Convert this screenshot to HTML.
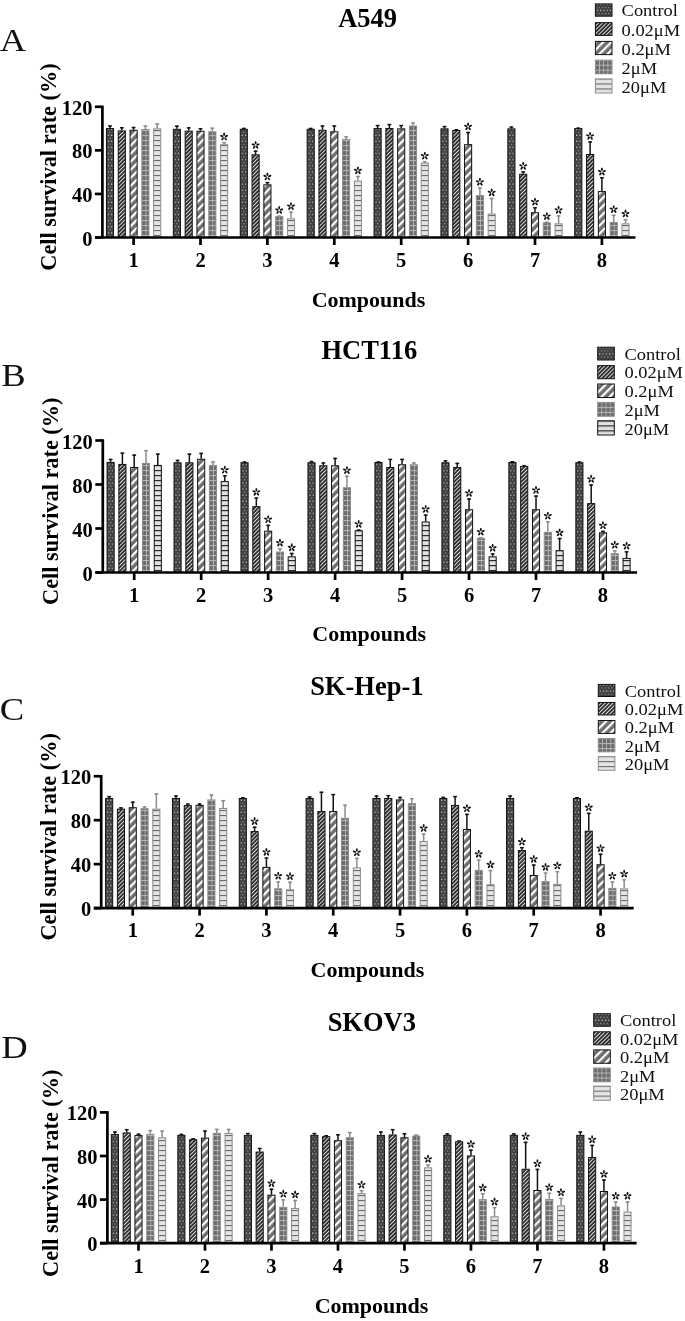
<!DOCTYPE html>
<html><head><meta charset="utf-8"><title>Cell survival</title>
<style>
html,body{margin:0;padding:0;background:#fff;}
body{width:685px;height:1321px;overflow:hidden;}
svg{display:block;will-change:transform;}
text{font-family:"Liberation Serif", serif;fill:#000;}
.tk{font-weight:bold;font-size:20.5px;}
.ti{font-weight:bold;font-size:26.5px;}
.ax{font-weight:bold;font-size:22px;}
.yl{font-weight:bold;font-size:22.3px;}
.lt{font-size:31px;fill:#111;}
.lg{font-size:17.4px;fill:#111;}
</style></head>
<body>
<svg width="685" height="1321" viewBox="0 0 685 1321">

<defs>
 <pattern id="p1" patternUnits="userSpaceOnUse" width="3.3" height="6.1" x="1.9">
  <rect width="3.3" height="6.1" fill="#404040"/>
  <rect x="0" y="0.5" width="1.1" height="1.1" fill="#e8e8e8"/>
  <rect x="1.65" y="3.55" width="1.1" height="1.1" fill="#a0a0a0"/>
 </pattern>
 <pattern id="p2" patternUnits="userSpaceOnUse" width="2.76" height="2.76" patternTransform="rotate(-45)">
  <rect width="2.76" height="2.76" fill="#2c2c2c"/>
  <rect width="2.76" height="0.95" fill="#e0e0e0"/>
 </pattern>
 <pattern id="p3" patternUnits="userSpaceOnUse" width="5.7" height="5.7" patternTransform="rotate(-45)">
  <rect width="5.7" height="5.7" fill="#6e6e6e"/>
  <rect width="5.7" height="2.2" fill="#ffffff"/>
 </pattern>
 <pattern id="p4" patternUnits="userSpaceOnUse" width="4.2" height="5" x="0.8">
  <rect width="4.2" height="5" fill="#6c6c6c"/>
  <rect y="0" width="4.2" height="1.1" fill="#b4b4b4"/>
  <rect x="3.4" y="0" width="1.3" height="5" fill="#b8b8b8"/>
 </pattern>
 <pattern id="p5" patternUnits="userSpaceOnUse" width="4" height="5">
  <rect width="4" height="5" fill="#e4e4e4"/>
  <rect y="0" width="4" height="1.1" fill="#6a6a6a"/>
 </pattern>
 <pattern id="p6" patternUnits="userSpaceOnUse" width="4" height="5">
  <rect width="4" height="5" fill="#e2e2e2"/>
  <rect y="0" width="4" height="1.2" fill="#2a2a2a"/>
 </pattern>
</defs>

<line x1="110.00" y1="128.04" x2="110.00" y2="125.31" stroke="#111" stroke-width="1.5"/>
<line x1="108.10" y1="126.01" x2="111.90" y2="126.01" stroke="#111" stroke-width="1.5"/>
<rect transform="translate(105.95 0)" x="0.5" y="128.54" width="7.10" height="108.96" fill="url(#p1)" stroke="#111" stroke-width="1"/>
<line x1="121.80" y1="130.43" x2="121.80" y2="127.06" stroke="#111" stroke-width="1.5"/>
<line x1="119.90" y1="127.76" x2="123.70" y2="127.76" stroke="#111" stroke-width="1.5"/>
<rect transform="translate(117.75 0)" x="0.5" y="130.93" width="7.10" height="106.57" fill="url(#p2)" stroke="#111" stroke-width="1"/>
<line x1="133.60" y1="129.78" x2="133.60" y2="126.84" stroke="#111" stroke-width="1.5"/>
<line x1="131.70" y1="127.54" x2="135.50" y2="127.54" stroke="#111" stroke-width="1.5"/>
<rect transform="translate(129.55 0)" x="0.5" y="130.28" width="7.10" height="107.22" fill="url(#p3)" stroke="#111" stroke-width="1"/>
<line x1="145.40" y1="129.02" x2="145.40" y2="125.31" stroke="#8c8c8c" stroke-width="1.5"/>
<line x1="143.50" y1="126.01" x2="147.30" y2="126.01" stroke="#8c8c8c" stroke-width="1.5"/>
<rect transform="translate(141.35 0)" x="0.5" y="129.52" width="7.10" height="107.98" fill="url(#p4)" stroke="#8c8c8c" stroke-width="1"/>
<line x1="157.20" y1="128.36" x2="157.20" y2="123.35" stroke="#8c8c8c" stroke-width="1.5"/>
<line x1="155.30" y1="124.05" x2="159.10" y2="124.05" stroke="#8c8c8c" stroke-width="1.5"/>
<rect transform="translate(153.15 0)" x="0.5" y="128.86" width="7.10" height="108.64" fill="url(#p5)" stroke="#8c8c8c" stroke-width="1"/>
<line x1="176.90" y1="128.80" x2="176.90" y2="125.53" stroke="#111" stroke-width="1.5"/>
<line x1="175.00" y1="126.23" x2="178.80" y2="126.23" stroke="#111" stroke-width="1.5"/>
<rect transform="translate(172.85 0)" x="0.5" y="129.30" width="7.10" height="108.20" fill="url(#p1)" stroke="#111" stroke-width="1"/>
<line x1="188.70" y1="130.65" x2="188.70" y2="127.16" stroke="#111" stroke-width="1.5"/>
<line x1="186.80" y1="127.86" x2="190.60" y2="127.86" stroke="#111" stroke-width="1.5"/>
<rect transform="translate(184.65 0)" x="0.5" y="131.15" width="7.10" height="106.35" fill="url(#p2)" stroke="#111" stroke-width="1"/>
<line x1="200.50" y1="130.76" x2="200.50" y2="128.04" stroke="#111" stroke-width="1.5"/>
<line x1="198.60" y1="128.74" x2="202.40" y2="128.74" stroke="#111" stroke-width="1.5"/>
<rect transform="translate(196.45 0)" x="0.5" y="131.26" width="7.10" height="106.24" fill="url(#p3)" stroke="#111" stroke-width="1"/>
<line x1="212.30" y1="131.30" x2="212.30" y2="127.49" stroke="#8c8c8c" stroke-width="1.5"/>
<line x1="210.40" y1="128.19" x2="214.20" y2="128.19" stroke="#8c8c8c" stroke-width="1.5"/>
<rect transform="translate(208.25 0)" x="0.5" y="131.80" width="7.10" height="105.70" fill="url(#p4)" stroke="#8c8c8c" stroke-width="1"/>
<line x1="224.10" y1="144.26" x2="224.10" y2="141.98" stroke="#8c8c8c" stroke-width="1.5"/>
<line x1="222.20" y1="142.68" x2="226.00" y2="142.68" stroke="#8c8c8c" stroke-width="1.5"/>
<rect transform="translate(220.05 0)" x="0.5" y="144.76" width="7.10" height="92.74" fill="url(#p5)" stroke="#8c8c8c" stroke-width="1"/>
<ellipse cx="224.10" cy="134.30" rx="1.76" ry="0.96" transform="rotate(-90.0 224.10 134.30)" fill="#111"/><ellipse cx="226.46" cy="136.01" rx="1.76" ry="0.96" transform="rotate(-18.0 226.46 136.01)" fill="#111"/><ellipse cx="225.56" cy="138.78" rx="1.76" ry="0.96" transform="rotate(54.0 225.56 138.78)" fill="#111"/><ellipse cx="222.64" cy="138.78" rx="1.76" ry="0.96" transform="rotate(126.0 222.64 138.78)" fill="#111"/><ellipse cx="221.74" cy="136.01" rx="1.76" ry="0.96" transform="rotate(198.0 221.74 136.01)" fill="#111"/>
<line x1="243.80" y1="128.80" x2="243.80" y2="127.82" stroke="#111" stroke-width="1.5"/>
<line x1="241.90" y1="128.52" x2="245.70" y2="128.52" stroke="#111" stroke-width="1.5"/>
<rect transform="translate(239.75 0)" x="0.5" y="129.30" width="7.10" height="108.20" fill="url(#p1)" stroke="#111" stroke-width="1"/>
<line x1="255.60" y1="154.29" x2="255.60" y2="150.47" stroke="#111" stroke-width="1.5"/>
<line x1="253.70" y1="151.17" x2="257.50" y2="151.17" stroke="#111" stroke-width="1.5"/>
<rect transform="translate(251.55 0)" x="0.5" y="154.79" width="7.10" height="82.71" fill="url(#p2)" stroke="#111" stroke-width="1"/>
<ellipse cx="255.60" cy="142.79" rx="1.76" ry="0.96" transform="rotate(-90.0 255.60 142.79)" fill="#111"/><ellipse cx="257.96" cy="144.51" rx="1.76" ry="0.96" transform="rotate(-18.0 257.96 144.51)" fill="#111"/><ellipse cx="257.06" cy="147.28" rx="1.76" ry="0.96" transform="rotate(54.0 257.06 147.28)" fill="#111"/><ellipse cx="254.14" cy="147.28" rx="1.76" ry="0.96" transform="rotate(126.0 254.14 147.28)" fill="#111"/><ellipse cx="253.24" cy="144.51" rx="1.76" ry="0.96" transform="rotate(198.0 253.24 144.51)" fill="#111"/>
<line x1="267.40" y1="184.35" x2="267.40" y2="181.95" stroke="#111" stroke-width="1.5"/>
<line x1="265.50" y1="182.65" x2="269.30" y2="182.65" stroke="#111" stroke-width="1.5"/>
<rect transform="translate(263.35 0)" x="0.5" y="184.85" width="7.10" height="52.65" fill="url(#p3)" stroke="#111" stroke-width="1"/>
<ellipse cx="267.40" cy="174.27" rx="1.76" ry="0.96" transform="rotate(-90.0 267.40 174.27)" fill="#111"/><ellipse cx="269.76" cy="175.98" rx="1.76" ry="0.96" transform="rotate(-18.0 269.76 175.98)" fill="#111"/><ellipse cx="268.86" cy="178.76" rx="1.76" ry="0.96" transform="rotate(54.0 268.86 178.76)" fill="#111"/><ellipse cx="265.94" cy="178.76" rx="1.76" ry="0.96" transform="rotate(126.0 265.94 178.76)" fill="#111"/><ellipse cx="265.04" cy="175.98" rx="1.76" ry="0.96" transform="rotate(198.0 265.04 175.98)" fill="#111"/>
<line x1="279.20" y1="216.15" x2="279.20" y2="215.50" stroke="#8c8c8c" stroke-width="1.5"/>
<line x1="277.30" y1="216.20" x2="281.10" y2="216.20" stroke="#8c8c8c" stroke-width="1.5"/>
<rect transform="translate(275.15 0)" x="0.5" y="216.65" width="7.10" height="20.85" fill="url(#p4)" stroke="#8c8c8c" stroke-width="1"/>
<ellipse cx="279.20" cy="207.82" rx="1.76" ry="0.96" transform="rotate(-90.0 279.20 207.82)" fill="#111"/><ellipse cx="281.56" cy="209.53" rx="1.76" ry="0.96" transform="rotate(-18.0 281.56 209.53)" fill="#111"/><ellipse cx="280.66" cy="212.30" rx="1.76" ry="0.96" transform="rotate(54.0 280.66 212.30)" fill="#111"/><ellipse cx="277.74" cy="212.30" rx="1.76" ry="0.96" transform="rotate(126.0 277.74 212.30)" fill="#111"/><ellipse cx="276.84" cy="209.53" rx="1.76" ry="0.96" transform="rotate(198.0 276.84 209.53)" fill="#111"/>
<line x1="291.00" y1="218.33" x2="291.00" y2="211.58" stroke="#8c8c8c" stroke-width="1.5"/>
<line x1="289.10" y1="212.28" x2="292.90" y2="212.28" stroke="#8c8c8c" stroke-width="1.5"/>
<rect transform="translate(286.95 0)" x="0.5" y="218.83" width="7.10" height="18.67" fill="url(#p5)" stroke="#8c8c8c" stroke-width="1"/>
<ellipse cx="291.00" cy="203.90" rx="1.76" ry="0.96" transform="rotate(-90.0 291.00 203.90)" fill="#111"/><ellipse cx="293.36" cy="205.61" rx="1.76" ry="0.96" transform="rotate(-18.0 293.36 205.61)" fill="#111"/><ellipse cx="292.46" cy="208.38" rx="1.76" ry="0.96" transform="rotate(54.0 292.46 208.38)" fill="#111"/><ellipse cx="289.54" cy="208.38" rx="1.76" ry="0.96" transform="rotate(126.0 289.54 208.38)" fill="#111"/><ellipse cx="288.64" cy="205.61" rx="1.76" ry="0.96" transform="rotate(198.0 288.64 205.61)" fill="#111"/>
<line x1="310.70" y1="128.80" x2="310.70" y2="127.82" stroke="#111" stroke-width="1.5"/>
<line x1="308.80" y1="128.52" x2="312.60" y2="128.52" stroke="#111" stroke-width="1.5"/>
<rect transform="translate(306.65 0)" x="0.5" y="129.30" width="7.10" height="108.20" fill="url(#p1)" stroke="#111" stroke-width="1"/>
<line x1="322.50" y1="129.78" x2="322.50" y2="125.31" stroke="#111" stroke-width="1.5"/>
<line x1="320.60" y1="126.01" x2="324.40" y2="126.01" stroke="#111" stroke-width="1.5"/>
<rect transform="translate(318.45 0)" x="0.5" y="130.28" width="7.10" height="107.22" fill="url(#p2)" stroke="#111" stroke-width="1"/>
<line x1="334.30" y1="131.30" x2="334.30" y2="125.31" stroke="#111" stroke-width="1.5"/>
<line x1="332.40" y1="126.01" x2="336.20" y2="126.01" stroke="#111" stroke-width="1.5"/>
<rect transform="translate(330.25 0)" x="0.5" y="131.80" width="7.10" height="105.70" fill="url(#p3)" stroke="#111" stroke-width="1"/>
<line x1="346.10" y1="139.04" x2="346.10" y2="136.20" stroke="#8c8c8c" stroke-width="1.5"/>
<line x1="344.20" y1="136.90" x2="348.00" y2="136.90" stroke="#8c8c8c" stroke-width="1.5"/>
<rect transform="translate(342.05 0)" x="0.5" y="139.54" width="7.10" height="97.96" fill="url(#p4)" stroke="#8c8c8c" stroke-width="1"/>
<line x1="357.90" y1="180.53" x2="357.90" y2="175.85" stroke="#8c8c8c" stroke-width="1.5"/>
<line x1="356.00" y1="176.55" x2="359.80" y2="176.55" stroke="#8c8c8c" stroke-width="1.5"/>
<rect transform="translate(353.85 0)" x="0.5" y="181.03" width="7.10" height="56.47" fill="url(#p5)" stroke="#8c8c8c" stroke-width="1"/>
<ellipse cx="357.90" cy="168.17" rx="1.76" ry="0.96" transform="rotate(-90.0 357.90 168.17)" fill="#111"/><ellipse cx="360.26" cy="169.88" rx="1.76" ry="0.96" transform="rotate(-18.0 360.26 169.88)" fill="#111"/><ellipse cx="359.36" cy="172.66" rx="1.76" ry="0.96" transform="rotate(54.0 359.36 172.66)" fill="#111"/><ellipse cx="356.44" cy="172.66" rx="1.76" ry="0.96" transform="rotate(126.0 356.44 172.66)" fill="#111"/><ellipse cx="355.54" cy="169.88" rx="1.76" ry="0.96" transform="rotate(198.0 355.54 169.88)" fill="#111"/>
<line x1="377.60" y1="128.04" x2="377.60" y2="124.88" stroke="#111" stroke-width="1.5"/>
<line x1="375.70" y1="125.58" x2="379.50" y2="125.58" stroke="#111" stroke-width="1.5"/>
<rect transform="translate(373.55 0)" x="0.5" y="128.54" width="7.10" height="108.96" fill="url(#p1)" stroke="#111" stroke-width="1"/>
<line x1="389.40" y1="128.04" x2="389.40" y2="123.90" stroke="#111" stroke-width="1.5"/>
<line x1="387.50" y1="124.60" x2="391.30" y2="124.60" stroke="#111" stroke-width="1.5"/>
<rect transform="translate(385.35 0)" x="0.5" y="128.54" width="7.10" height="108.96" fill="url(#p2)" stroke="#111" stroke-width="1"/>
<line x1="401.20" y1="128.36" x2="401.20" y2="124.88" stroke="#111" stroke-width="1.5"/>
<line x1="399.30" y1="125.58" x2="403.10" y2="125.58" stroke="#111" stroke-width="1.5"/>
<rect transform="translate(397.15 0)" x="0.5" y="128.86" width="7.10" height="108.64" fill="url(#p3)" stroke="#111" stroke-width="1"/>
<line x1="413.00" y1="125.53" x2="413.00" y2="122.26" stroke="#8c8c8c" stroke-width="1.5"/>
<line x1="411.10" y1="122.96" x2="414.90" y2="122.96" stroke="#8c8c8c" stroke-width="1.5"/>
<rect transform="translate(408.95 0)" x="0.5" y="126.03" width="7.10" height="111.47" fill="url(#p4)" stroke="#8c8c8c" stroke-width="1"/>
<line x1="424.80" y1="162.67" x2="424.80" y2="161.15" stroke="#8c8c8c" stroke-width="1.5"/>
<line x1="422.90" y1="161.85" x2="426.70" y2="161.85" stroke="#8c8c8c" stroke-width="1.5"/>
<rect transform="translate(420.75 0)" x="0.5" y="163.17" width="7.10" height="74.33" fill="url(#p5)" stroke="#8c8c8c" stroke-width="1"/>
<ellipse cx="424.80" cy="153.47" rx="1.76" ry="0.96" transform="rotate(-90.0 424.80 153.47)" fill="#111"/><ellipse cx="427.16" cy="155.18" rx="1.76" ry="0.96" transform="rotate(-18.0 427.16 155.18)" fill="#111"/><ellipse cx="426.26" cy="157.95" rx="1.76" ry="0.96" transform="rotate(54.0 426.26 157.95)" fill="#111"/><ellipse cx="423.34" cy="157.95" rx="1.76" ry="0.96" transform="rotate(126.0 423.34 157.95)" fill="#111"/><ellipse cx="422.44" cy="155.18" rx="1.76" ry="0.96" transform="rotate(198.0 422.44 155.18)" fill="#111"/>
<line x1="444.50" y1="128.36" x2="444.50" y2="125.86" stroke="#111" stroke-width="1.5"/>
<line x1="442.60" y1="126.56" x2="446.40" y2="126.56" stroke="#111" stroke-width="1.5"/>
<rect transform="translate(440.45 0)" x="0.5" y="128.86" width="7.10" height="108.64" fill="url(#p1)" stroke="#111" stroke-width="1"/>
<line x1="456.30" y1="130.00" x2="456.30" y2="129.12" stroke="#111" stroke-width="1.5"/>
<line x1="454.40" y1="129.82" x2="458.20" y2="129.82" stroke="#111" stroke-width="1.5"/>
<rect transform="translate(452.25 0)" x="0.5" y="130.50" width="7.10" height="107.00" fill="url(#p2)" stroke="#111" stroke-width="1"/>
<line x1="468.10" y1="144.16" x2="468.10" y2="131.85" stroke="#111" stroke-width="1.5"/>
<line x1="466.20" y1="132.55" x2="470.00" y2="132.55" stroke="#111" stroke-width="1.5"/>
<rect transform="translate(464.05 0)" x="0.5" y="144.66" width="7.10" height="92.84" fill="url(#p3)" stroke="#111" stroke-width="1"/>
<ellipse cx="468.10" cy="124.17" rx="1.76" ry="0.96" transform="rotate(-90.0 468.10 124.17)" fill="#111"/><ellipse cx="470.46" cy="125.88" rx="1.76" ry="0.96" transform="rotate(-18.0 470.46 125.88)" fill="#111"/><ellipse cx="469.56" cy="128.65" rx="1.76" ry="0.96" transform="rotate(54.0 469.56 128.65)" fill="#111"/><ellipse cx="466.64" cy="128.65" rx="1.76" ry="0.96" transform="rotate(126.0 466.64 128.65)" fill="#111"/><ellipse cx="465.74" cy="125.88" rx="1.76" ry="0.96" transform="rotate(198.0 465.74 125.88)" fill="#111"/>
<line x1="479.90" y1="195.02" x2="479.90" y2="187.29" stroke="#8c8c8c" stroke-width="1.5"/>
<line x1="478.00" y1="187.99" x2="481.80" y2="187.99" stroke="#8c8c8c" stroke-width="1.5"/>
<rect transform="translate(475.85 0)" x="0.5" y="195.52" width="7.10" height="41.98" fill="url(#p4)" stroke="#8c8c8c" stroke-width="1"/>
<ellipse cx="479.90" cy="179.61" rx="1.76" ry="0.96" transform="rotate(-90.0 479.90 179.61)" fill="#111"/><ellipse cx="482.26" cy="181.32" rx="1.76" ry="0.96" transform="rotate(-18.0 482.26 181.32)" fill="#111"/><ellipse cx="481.36" cy="184.09" rx="1.76" ry="0.96" transform="rotate(54.0 481.36 184.09)" fill="#111"/><ellipse cx="478.44" cy="184.09" rx="1.76" ry="0.96" transform="rotate(126.0 478.44 184.09)" fill="#111"/><ellipse cx="477.54" cy="181.32" rx="1.76" ry="0.96" transform="rotate(198.0 477.54 181.32)" fill="#111"/>
<line x1="491.70" y1="213.54" x2="491.70" y2="197.85" stroke="#8c8c8c" stroke-width="1.5"/>
<line x1="489.80" y1="198.55" x2="493.60" y2="198.55" stroke="#8c8c8c" stroke-width="1.5"/>
<rect transform="translate(487.65 0)" x="0.5" y="214.04" width="7.10" height="23.46" fill="url(#p5)" stroke="#8c8c8c" stroke-width="1"/>
<ellipse cx="491.70" cy="190.17" rx="1.76" ry="0.96" transform="rotate(-90.0 491.70 190.17)" fill="#111"/><ellipse cx="494.06" cy="191.89" rx="1.76" ry="0.96" transform="rotate(-18.0 494.06 191.89)" fill="#111"/><ellipse cx="493.16" cy="194.66" rx="1.76" ry="0.96" transform="rotate(54.0 493.16 194.66)" fill="#111"/><ellipse cx="490.24" cy="194.66" rx="1.76" ry="0.96" transform="rotate(126.0 490.24 194.66)" fill="#111"/><ellipse cx="489.34" cy="191.89" rx="1.76" ry="0.96" transform="rotate(198.0 489.34 191.89)" fill="#111"/>
<line x1="511.40" y1="128.36" x2="511.40" y2="126.40" stroke="#111" stroke-width="1.5"/>
<line x1="509.50" y1="127.10" x2="513.30" y2="127.10" stroke="#111" stroke-width="1.5"/>
<rect transform="translate(507.35 0)" x="0.5" y="128.86" width="7.10" height="108.64" fill="url(#p1)" stroke="#111" stroke-width="1"/>
<line x1="523.20" y1="173.78" x2="523.20" y2="171.28" stroke="#111" stroke-width="1.5"/>
<line x1="521.30" y1="171.98" x2="525.10" y2="171.98" stroke="#111" stroke-width="1.5"/>
<rect transform="translate(519.15 0)" x="0.5" y="174.28" width="7.10" height="63.22" fill="url(#p2)" stroke="#111" stroke-width="1"/>
<ellipse cx="523.20" cy="163.60" rx="1.76" ry="0.96" transform="rotate(-90.0 523.20 163.60)" fill="#111"/><ellipse cx="525.56" cy="165.31" rx="1.76" ry="0.96" transform="rotate(-18.0 525.56 165.31)" fill="#111"/><ellipse cx="524.66" cy="168.08" rx="1.76" ry="0.96" transform="rotate(54.0 524.66 168.08)" fill="#111"/><ellipse cx="521.74" cy="168.08" rx="1.76" ry="0.96" transform="rotate(126.0 521.74 168.08)" fill="#111"/><ellipse cx="520.84" cy="165.31" rx="1.76" ry="0.96" transform="rotate(198.0 520.84 165.31)" fill="#111"/>
<line x1="535.00" y1="212.23" x2="535.00" y2="207.11" stroke="#111" stroke-width="1.5"/>
<line x1="533.10" y1="207.81" x2="536.90" y2="207.81" stroke="#111" stroke-width="1.5"/>
<rect transform="translate(530.95 0)" x="0.5" y="212.73" width="7.10" height="24.77" fill="url(#p3)" stroke="#111" stroke-width="1"/>
<ellipse cx="535.00" cy="199.43" rx="1.76" ry="0.96" transform="rotate(-90.0 535.00 199.43)" fill="#111"/><ellipse cx="537.36" cy="201.14" rx="1.76" ry="0.96" transform="rotate(-18.0 537.36 201.14)" fill="#111"/><ellipse cx="536.46" cy="203.92" rx="1.76" ry="0.96" transform="rotate(54.0 536.46 203.92)" fill="#111"/><ellipse cx="533.54" cy="203.92" rx="1.76" ry="0.96" transform="rotate(126.0 533.54 203.92)" fill="#111"/><ellipse cx="532.64" cy="201.14" rx="1.76" ry="0.96" transform="rotate(198.0 532.64 201.14)" fill="#111"/>
<line x1="546.80" y1="222.36" x2="546.80" y2="221.60" stroke="#8c8c8c" stroke-width="1.5"/>
<line x1="544.90" y1="222.30" x2="548.70" y2="222.30" stroke="#8c8c8c" stroke-width="1.5"/>
<rect transform="translate(542.75 0)" x="0.5" y="222.86" width="7.10" height="14.64" fill="url(#p4)" stroke="#8c8c8c" stroke-width="1"/>
<ellipse cx="546.80" cy="213.92" rx="1.76" ry="0.96" transform="rotate(-90.0 546.80 213.92)" fill="#111"/><ellipse cx="549.16" cy="215.63" rx="1.76" ry="0.96" transform="rotate(-18.0 549.16 215.63)" fill="#111"/><ellipse cx="548.26" cy="218.40" rx="1.76" ry="0.96" transform="rotate(54.0 548.26 218.40)" fill="#111"/><ellipse cx="545.34" cy="218.40" rx="1.76" ry="0.96" transform="rotate(126.0 545.34 218.40)" fill="#111"/><ellipse cx="544.44" cy="215.63" rx="1.76" ry="0.96" transform="rotate(198.0 544.44 215.63)" fill="#111"/>
<line x1="558.60" y1="223.34" x2="558.60" y2="215.28" stroke="#8c8c8c" stroke-width="1.5"/>
<line x1="556.70" y1="215.98" x2="560.50" y2="215.98" stroke="#8c8c8c" stroke-width="1.5"/>
<rect transform="translate(554.55 0)" x="0.5" y="223.84" width="7.10" height="13.66" fill="url(#p5)" stroke="#8c8c8c" stroke-width="1"/>
<ellipse cx="558.60" cy="207.60" rx="1.76" ry="0.96" transform="rotate(-90.0 558.60 207.60)" fill="#111"/><ellipse cx="560.96" cy="209.31" rx="1.76" ry="0.96" transform="rotate(-18.0 560.96 209.31)" fill="#111"/><ellipse cx="560.06" cy="212.09" rx="1.76" ry="0.96" transform="rotate(54.0 560.06 212.09)" fill="#111"/><ellipse cx="557.14" cy="212.09" rx="1.76" ry="0.96" transform="rotate(126.0 557.14 212.09)" fill="#111"/><ellipse cx="556.24" cy="209.31" rx="1.76" ry="0.96" transform="rotate(198.0 556.24 209.31)" fill="#111"/>
<line x1="578.30" y1="128.04" x2="578.30" y2="127.49" stroke="#111" stroke-width="1.5"/>
<line x1="576.40" y1="128.19" x2="580.20" y2="128.19" stroke="#111" stroke-width="1.5"/>
<rect transform="translate(574.25 0)" x="0.5" y="128.54" width="7.10" height="108.96" fill="url(#p1)" stroke="#111" stroke-width="1"/>
<line x1="590.10" y1="153.96" x2="590.10" y2="141.32" stroke="#111" stroke-width="1.5"/>
<line x1="588.20" y1="142.02" x2="592.00" y2="142.02" stroke="#111" stroke-width="1.5"/>
<rect transform="translate(586.05 0)" x="0.5" y="154.46" width="7.10" height="83.04" fill="url(#p2)" stroke="#111" stroke-width="1"/>
<ellipse cx="590.10" cy="133.64" rx="1.76" ry="0.96" transform="rotate(-90.0 590.10 133.64)" fill="#111"/><ellipse cx="592.46" cy="135.36" rx="1.76" ry="0.96" transform="rotate(-18.0 592.46 135.36)" fill="#111"/><ellipse cx="591.56" cy="138.13" rx="1.76" ry="0.96" transform="rotate(54.0 591.56 138.13)" fill="#111"/><ellipse cx="588.64" cy="138.13" rx="1.76" ry="0.96" transform="rotate(126.0 588.64 138.13)" fill="#111"/><ellipse cx="587.74" cy="135.36" rx="1.76" ry="0.96" transform="rotate(198.0 587.74 135.36)" fill="#111"/>
<line x1="601.90" y1="191.10" x2="601.90" y2="177.05" stroke="#111" stroke-width="1.5"/>
<line x1="600.00" y1="177.75" x2="603.80" y2="177.75" stroke="#111" stroke-width="1.5"/>
<rect transform="translate(597.85 0)" x="0.5" y="191.60" width="7.10" height="45.90" fill="url(#p3)" stroke="#111" stroke-width="1"/>
<ellipse cx="601.90" cy="169.37" rx="1.76" ry="0.96" transform="rotate(-90.0 601.90 169.37)" fill="#111"/><ellipse cx="604.26" cy="171.08" rx="1.76" ry="0.96" transform="rotate(-18.0 604.26 171.08)" fill="#111"/><ellipse cx="603.36" cy="173.86" rx="1.76" ry="0.96" transform="rotate(54.0 603.36 173.86)" fill="#111"/><ellipse cx="600.44" cy="173.86" rx="1.76" ry="0.96" transform="rotate(126.0 600.44 173.86)" fill="#111"/><ellipse cx="599.54" cy="171.08" rx="1.76" ry="0.96" transform="rotate(198.0 599.54 171.08)" fill="#111"/>
<line x1="613.70" y1="222.03" x2="613.70" y2="214.63" stroke="#8c8c8c" stroke-width="1.5"/>
<line x1="611.80" y1="215.33" x2="615.60" y2="215.33" stroke="#8c8c8c" stroke-width="1.5"/>
<rect transform="translate(609.65 0)" x="0.5" y="222.53" width="7.10" height="14.97" fill="url(#p4)" stroke="#8c8c8c" stroke-width="1"/>
<ellipse cx="613.70" cy="206.95" rx="1.76" ry="0.96" transform="rotate(-90.0 613.70 206.95)" fill="#111"/><ellipse cx="616.06" cy="208.66" rx="1.76" ry="0.96" transform="rotate(-18.0 616.06 208.66)" fill="#111"/><ellipse cx="615.16" cy="211.43" rx="1.76" ry="0.96" transform="rotate(54.0 615.16 211.43)" fill="#111"/><ellipse cx="612.24" cy="211.43" rx="1.76" ry="0.96" transform="rotate(126.0 612.24 211.43)" fill="#111"/><ellipse cx="611.34" cy="208.66" rx="1.76" ry="0.96" transform="rotate(198.0 611.34 208.66)" fill="#111"/>
<line x1="625.50" y1="223.34" x2="625.50" y2="218.98" stroke="#8c8c8c" stroke-width="1.5"/>
<line x1="623.60" y1="219.68" x2="627.40" y2="219.68" stroke="#8c8c8c" stroke-width="1.5"/>
<rect transform="translate(621.45 0)" x="0.5" y="223.84" width="7.10" height="13.66" fill="url(#p5)" stroke="#8c8c8c" stroke-width="1"/>
<ellipse cx="625.50" cy="211.30" rx="1.76" ry="0.96" transform="rotate(-90.0 625.50 211.30)" fill="#111"/><ellipse cx="627.86" cy="213.02" rx="1.76" ry="0.96" transform="rotate(-18.0 627.86 213.02)" fill="#111"/><ellipse cx="626.96" cy="215.79" rx="1.76" ry="0.96" transform="rotate(54.0 626.96 215.79)" fill="#111"/><ellipse cx="624.04" cy="215.79" rx="1.76" ry="0.96" transform="rotate(126.0 624.04 215.79)" fill="#111"/><ellipse cx="623.14" cy="213.02" rx="1.76" ry="0.96" transform="rotate(198.0 623.14 213.02)" fill="#111"/>
<line x1="102.40" y1="105.60" x2="102.40" y2="237.50" stroke="#000" stroke-width="2.7"/>
<line x1="95.00" y1="237.50" x2="635.50" y2="237.50" stroke="#000" stroke-width="2.7"/>
<line x1="94.90" y1="237.50" x2="102.40" y2="237.50" stroke="#000" stroke-width="2.7"/>
<text transform="translate(92.40 245.50) scale(1 1.07)" text-anchor="end" class="tk">0</text>
<line x1="94.90" y1="193.93" x2="102.40" y2="193.93" stroke="#000" stroke-width="2.7"/>
<text transform="translate(92.40 201.93) scale(1 1.07)" text-anchor="end" class="tk">40</text>
<line x1="94.90" y1="150.36" x2="102.40" y2="150.36" stroke="#000" stroke-width="2.7"/>
<text transform="translate(92.40 158.36) scale(1 1.07)" text-anchor="end" class="tk">80</text>
<line x1="94.90" y1="106.80" x2="102.40" y2="106.80" stroke="#000" stroke-width="2.7"/>
<text transform="translate(92.40 114.80) scale(1 1.07)" text-anchor="end" class="tk">120</text>
<line x1="133.60" y1="237.50" x2="133.60" y2="245.00" stroke="#000" stroke-width="2.7"/>
<text x="133.60" y="267.00" text-anchor="middle" class="tk">1</text>
<line x1="200.50" y1="237.50" x2="200.50" y2="245.00" stroke="#000" stroke-width="2.7"/>
<text x="200.50" y="267.00" text-anchor="middle" class="tk">2</text>
<line x1="267.40" y1="237.50" x2="267.40" y2="245.00" stroke="#000" stroke-width="2.7"/>
<text x="267.40" y="267.00" text-anchor="middle" class="tk">3</text>
<line x1="334.30" y1="237.50" x2="334.30" y2="245.00" stroke="#000" stroke-width="2.7"/>
<text x="334.30" y="267.00" text-anchor="middle" class="tk">4</text>
<line x1="401.20" y1="237.50" x2="401.20" y2="245.00" stroke="#000" stroke-width="2.7"/>
<text x="401.20" y="267.00" text-anchor="middle" class="tk">5</text>
<line x1="468.10" y1="237.50" x2="468.10" y2="245.00" stroke="#000" stroke-width="2.7"/>
<text x="468.10" y="267.00" text-anchor="middle" class="tk">6</text>
<line x1="535.00" y1="237.50" x2="535.00" y2="245.00" stroke="#000" stroke-width="2.7"/>
<text x="535.00" y="267.00" text-anchor="middle" class="tk">7</text>
<line x1="601.90" y1="237.50" x2="601.90" y2="245.00" stroke="#000" stroke-width="2.7"/>
<text x="601.90" y="267.00" text-anchor="middle" class="tk">8</text>
<text transform="translate(367.60 27.20) scale(1 1.07)" text-anchor="middle" class="ti">A549</text>
<text transform="translate(-0.20 50.80) scale(1.18 1)" class="lt">A</text>
<text x="368.50" y="307.00" text-anchor="middle" class="ax">Compounds</text>
<text transform="translate(56.20 167.00) rotate(-90)" text-anchor="middle" class="yl">Cell survival rate (%)</text>
<rect transform="translate(594.90 3.40)" x="0.5" y="0.5" width="16.6" height="12.30" fill="url(#p1)" stroke="#111" stroke-width="1"/>
<text transform="translate(621.60 16.30) scale(1.06 1)" class="lg">Control</text>
<rect transform="translate(594.90 22.15)" x="0.5" y="0.5" width="16.6" height="12.75" fill="url(#p2)" stroke="#111" stroke-width="1"/>
<text transform="translate(621.60 35.50) scale(1.06 1)" class="lg">0.02μM</text>
<rect transform="translate(594.90 40.90)" x="0.5" y="0.5" width="16.6" height="13.20" fill="url(#p3)" stroke="#111" stroke-width="1"/>
<text transform="translate(621.60 54.70) scale(1.06 1)" class="lg">0.2μM</text>
<rect transform="translate(594.90 59.65)" x="0.5" y="0.5" width="16.6" height="13.65" fill="url(#p4)" stroke="#8c8c8c" stroke-width="1"/>
<text transform="translate(621.60 73.90) scale(1.06 1)" class="lg">2μM</text>
<rect transform="translate(594.90 78.40)" x="0.5" y="0.5" width="16.6" height="14.10" fill="url(#p5)" stroke="#8c8c8c" stroke-width="1"/>
<text transform="translate(621.60 93.10) scale(1.06 1)" class="lg">20μM</text>
<line x1="110.60" y1="461.95" x2="110.60" y2="458.76" stroke="#111" stroke-width="1.5"/>
<line x1="108.70" y1="459.46" x2="112.50" y2="459.46" stroke="#111" stroke-width="1.5"/>
<rect transform="translate(106.55 0)" x="0.5" y="462.45" width="7.10" height="110.05" fill="url(#p1)" stroke="#111" stroke-width="1"/>
<line x1="122.40" y1="463.93" x2="122.40" y2="452.49" stroke="#111" stroke-width="1.5"/>
<line x1="120.50" y1="453.19" x2="124.30" y2="453.19" stroke="#111" stroke-width="1.5"/>
<rect transform="translate(118.35 0)" x="0.5" y="464.43" width="7.10" height="108.07" fill="url(#p2)" stroke="#111" stroke-width="1"/>
<line x1="134.20" y1="467.01" x2="134.20" y2="454.47" stroke="#111" stroke-width="1.5"/>
<line x1="132.30" y1="455.17" x2="136.10" y2="455.17" stroke="#111" stroke-width="1.5"/>
<rect transform="translate(130.15 0)" x="0.5" y="467.51" width="7.10" height="104.99" fill="url(#p3)" stroke="#111" stroke-width="1"/>
<line x1="146.00" y1="462.94" x2="146.00" y2="449.96" stroke="#8c8c8c" stroke-width="1.5"/>
<line x1="144.10" y1="450.66" x2="147.90" y2="450.66" stroke="#8c8c8c" stroke-width="1.5"/>
<rect transform="translate(141.95 0)" x="0.5" y="463.44" width="7.10" height="109.06" fill="url(#p4)" stroke="#8c8c8c" stroke-width="1"/>
<line x1="157.80" y1="464.92" x2="157.80" y2="453.48" stroke="#111" stroke-width="1.5"/>
<line x1="155.90" y1="454.18" x2="159.70" y2="454.18" stroke="#111" stroke-width="1.5"/>
<rect transform="translate(153.75 0)" x="0.5" y="465.42" width="7.10" height="107.08" fill="url(#p6)" stroke="#111" stroke-width="1"/>
<line x1="177.57" y1="462.28" x2="177.57" y2="459.75" stroke="#111" stroke-width="1.5"/>
<line x1="175.67" y1="460.45" x2="179.47" y2="460.45" stroke="#111" stroke-width="1.5"/>
<rect transform="translate(173.52 0)" x="0.5" y="462.78" width="7.10" height="109.72" fill="url(#p1)" stroke="#111" stroke-width="1"/>
<line x1="189.37" y1="462.28" x2="189.37" y2="453.48" stroke="#111" stroke-width="1.5"/>
<line x1="187.47" y1="454.18" x2="191.27" y2="454.18" stroke="#111" stroke-width="1.5"/>
<rect transform="translate(185.32 0)" x="0.5" y="462.78" width="7.10" height="109.72" fill="url(#p2)" stroke="#111" stroke-width="1"/>
<line x1="201.17" y1="458.76" x2="201.17" y2="452.71" stroke="#111" stroke-width="1.5"/>
<line x1="199.27" y1="453.41" x2="203.07" y2="453.41" stroke="#111" stroke-width="1.5"/>
<rect transform="translate(197.12 0)" x="0.5" y="459.26" width="7.10" height="113.24" fill="url(#p3)" stroke="#111" stroke-width="1"/>
<line x1="212.97" y1="464.92" x2="212.97" y2="461.18" stroke="#8c8c8c" stroke-width="1.5"/>
<line x1="211.07" y1="461.88" x2="214.87" y2="461.88" stroke="#8c8c8c" stroke-width="1.5"/>
<rect transform="translate(208.92 0)" x="0.5" y="465.42" width="7.10" height="107.08" fill="url(#p4)" stroke="#8c8c8c" stroke-width="1"/>
<line x1="224.77" y1="481.09" x2="224.77" y2="475.15" stroke="#111" stroke-width="1.5"/>
<line x1="222.87" y1="475.85" x2="226.67" y2="475.85" stroke="#111" stroke-width="1.5"/>
<rect transform="translate(220.72 0)" x="0.5" y="481.59" width="7.10" height="90.91" fill="url(#p6)" stroke="#111" stroke-width="1"/>
<ellipse cx="224.77" cy="467.47" rx="1.76" ry="0.96" transform="rotate(-90.0 224.77 467.47)" fill="#111"/><ellipse cx="227.13" cy="469.18" rx="1.76" ry="0.96" transform="rotate(-18.0 227.13 469.18)" fill="#111"/><ellipse cx="226.23" cy="471.96" rx="1.76" ry="0.96" transform="rotate(54.0 226.23 471.96)" fill="#111"/><ellipse cx="223.31" cy="471.96" rx="1.76" ry="0.96" transform="rotate(126.0 223.31 471.96)" fill="#111"/><ellipse cx="222.41" cy="469.18" rx="1.76" ry="0.96" transform="rotate(198.0 222.41 469.18)" fill="#111"/>
<line x1="244.54" y1="462.28" x2="244.54" y2="461.40" stroke="#111" stroke-width="1.5"/>
<line x1="242.64" y1="462.10" x2="246.44" y2="462.10" stroke="#111" stroke-width="1.5"/>
<rect transform="translate(240.49 0)" x="0.5" y="462.78" width="7.10" height="109.72" fill="url(#p1)" stroke="#111" stroke-width="1"/>
<line x1="256.34" y1="506.17" x2="256.34" y2="497.37" stroke="#111" stroke-width="1.5"/>
<line x1="254.44" y1="498.07" x2="258.24" y2="498.07" stroke="#111" stroke-width="1.5"/>
<rect transform="translate(252.29 0)" x="0.5" y="506.67" width="7.10" height="65.83" fill="url(#p2)" stroke="#111" stroke-width="1"/>
<ellipse cx="256.34" cy="489.69" rx="1.76" ry="0.96" transform="rotate(-90.0 256.34 489.69)" fill="#111"/><ellipse cx="258.70" cy="491.40" rx="1.76" ry="0.96" transform="rotate(-18.0 258.70 491.40)" fill="#111"/><ellipse cx="257.80" cy="494.18" rx="1.76" ry="0.96" transform="rotate(54.0 257.80 494.18)" fill="#111"/><ellipse cx="254.88" cy="494.18" rx="1.76" ry="0.96" transform="rotate(126.0 254.88 494.18)" fill="#111"/><ellipse cx="253.98" cy="491.40" rx="1.76" ry="0.96" transform="rotate(198.0 253.98 491.40)" fill="#111"/>
<line x1="268.14" y1="530.70" x2="268.14" y2="524.65" stroke="#111" stroke-width="1.5"/>
<line x1="266.24" y1="525.35" x2="270.04" y2="525.35" stroke="#111" stroke-width="1.5"/>
<rect transform="translate(264.09 0)" x="0.5" y="531.20" width="7.10" height="41.30" fill="url(#p3)" stroke="#111" stroke-width="1"/>
<ellipse cx="268.14" cy="516.97" rx="1.76" ry="0.96" transform="rotate(-90.0 268.14 516.97)" fill="#111"/><ellipse cx="270.50" cy="518.68" rx="1.76" ry="0.96" transform="rotate(-18.0 270.50 518.68)" fill="#111"/><ellipse cx="269.60" cy="521.46" rx="1.76" ry="0.96" transform="rotate(54.0 269.60 521.46)" fill="#111"/><ellipse cx="266.68" cy="521.46" rx="1.76" ry="0.96" transform="rotate(126.0 266.68 521.46)" fill="#111"/><ellipse cx="265.78" cy="518.68" rx="1.76" ry="0.96" transform="rotate(198.0 265.78 518.68)" fill="#111"/>
<line x1="279.94" y1="551.60" x2="279.94" y2="548.08" stroke="#8c8c8c" stroke-width="1.5"/>
<line x1="278.04" y1="548.78" x2="281.84" y2="548.78" stroke="#8c8c8c" stroke-width="1.5"/>
<rect transform="translate(275.89 0)" x="0.5" y="552.10" width="7.10" height="20.40" fill="url(#p4)" stroke="#8c8c8c" stroke-width="1"/>
<ellipse cx="279.94" cy="540.40" rx="1.76" ry="0.96" transform="rotate(-90.0 279.94 540.40)" fill="#111"/><ellipse cx="282.30" cy="542.11" rx="1.76" ry="0.96" transform="rotate(-18.0 282.30 542.11)" fill="#111"/><ellipse cx="281.40" cy="544.89" rx="1.76" ry="0.96" transform="rotate(54.0 281.40 544.89)" fill="#111"/><ellipse cx="278.48" cy="544.89" rx="1.76" ry="0.96" transform="rotate(126.0 278.48 544.89)" fill="#111"/><ellipse cx="277.58" cy="542.11" rx="1.76" ry="0.96" transform="rotate(198.0 277.58 542.11)" fill="#111"/>
<line x1="291.74" y1="556.33" x2="291.74" y2="552.81" stroke="#111" stroke-width="1.5"/>
<line x1="289.84" y1="553.51" x2="293.64" y2="553.51" stroke="#111" stroke-width="1.5"/>
<rect transform="translate(287.69 0)" x="0.5" y="556.83" width="7.10" height="15.67" fill="url(#p6)" stroke="#111" stroke-width="1"/>
<ellipse cx="291.74" cy="545.13" rx="1.76" ry="0.96" transform="rotate(-90.0 291.74 545.13)" fill="#111"/><ellipse cx="294.10" cy="546.84" rx="1.76" ry="0.96" transform="rotate(-18.0 294.10 546.84)" fill="#111"/><ellipse cx="293.20" cy="549.62" rx="1.76" ry="0.96" transform="rotate(54.0 293.20 549.62)" fill="#111"/><ellipse cx="290.28" cy="549.62" rx="1.76" ry="0.96" transform="rotate(126.0 290.28 549.62)" fill="#111"/><ellipse cx="289.38" cy="546.84" rx="1.76" ry="0.96" transform="rotate(198.0 289.38 546.84)" fill="#111"/>
<line x1="311.51" y1="462.28" x2="311.51" y2="460.85" stroke="#111" stroke-width="1.5"/>
<line x1="309.61" y1="461.55" x2="313.41" y2="461.55" stroke="#111" stroke-width="1.5"/>
<rect transform="translate(307.46 0)" x="0.5" y="462.78" width="7.10" height="109.72" fill="url(#p1)" stroke="#111" stroke-width="1"/>
<line x1="323.31" y1="465.25" x2="323.31" y2="462.28" stroke="#111" stroke-width="1.5"/>
<line x1="321.41" y1="462.98" x2="325.21" y2="462.98" stroke="#111" stroke-width="1.5"/>
<rect transform="translate(319.26 0)" x="0.5" y="465.75" width="7.10" height="106.75" fill="url(#p2)" stroke="#111" stroke-width="1"/>
<line x1="335.11" y1="465.25" x2="335.11" y2="457.77" stroke="#111" stroke-width="1.5"/>
<line x1="333.21" y1="458.47" x2="337.01" y2="458.47" stroke="#111" stroke-width="1.5"/>
<rect transform="translate(331.06 0)" x="0.5" y="465.75" width="7.10" height="106.75" fill="url(#p3)" stroke="#111" stroke-width="1"/>
<line x1="346.91" y1="487.25" x2="346.91" y2="475.59" stroke="#8c8c8c" stroke-width="1.5"/>
<line x1="345.01" y1="476.29" x2="348.81" y2="476.29" stroke="#8c8c8c" stroke-width="1.5"/>
<rect transform="translate(342.86 0)" x="0.5" y="487.75" width="7.10" height="84.75" fill="url(#p4)" stroke="#8c8c8c" stroke-width="1"/>
<ellipse cx="346.91" cy="467.91" rx="1.76" ry="0.96" transform="rotate(-90.0 346.91 467.91)" fill="#111"/><ellipse cx="349.27" cy="469.62" rx="1.76" ry="0.96" transform="rotate(-18.0 349.27 469.62)" fill="#111"/><ellipse cx="348.37" cy="472.40" rx="1.76" ry="0.96" transform="rotate(54.0 348.37 472.40)" fill="#111"/><ellipse cx="345.45" cy="472.40" rx="1.76" ry="0.96" transform="rotate(126.0 345.45 472.40)" fill="#111"/><ellipse cx="344.55" cy="469.62" rx="1.76" ry="0.96" transform="rotate(198.0 344.55 469.62)" fill="#111"/>
<line x1="358.71" y1="530.26" x2="358.71" y2="529.38" stroke="#111" stroke-width="1.5"/>
<line x1="356.81" y1="530.08" x2="360.61" y2="530.08" stroke="#111" stroke-width="1.5"/>
<rect transform="translate(354.66 0)" x="0.5" y="530.76" width="7.10" height="41.74" fill="url(#p6)" stroke="#111" stroke-width="1"/>
<ellipse cx="358.71" cy="521.70" rx="1.76" ry="0.96" transform="rotate(-90.0 358.71 521.70)" fill="#111"/><ellipse cx="361.07" cy="523.41" rx="1.76" ry="0.96" transform="rotate(-18.0 361.07 523.41)" fill="#111"/><ellipse cx="360.17" cy="526.19" rx="1.76" ry="0.96" transform="rotate(54.0 360.17 526.19)" fill="#111"/><ellipse cx="357.25" cy="526.19" rx="1.76" ry="0.96" transform="rotate(126.0 357.25 526.19)" fill="#111"/><ellipse cx="356.35" cy="523.41" rx="1.76" ry="0.96" transform="rotate(198.0 356.35 523.41)" fill="#111"/>
<line x1="378.48" y1="461.95" x2="378.48" y2="461.40" stroke="#111" stroke-width="1.5"/>
<line x1="376.58" y1="462.10" x2="380.38" y2="462.10" stroke="#111" stroke-width="1.5"/>
<rect transform="translate(374.43 0)" x="0.5" y="462.45" width="7.10" height="110.05" fill="url(#p1)" stroke="#111" stroke-width="1"/>
<line x1="390.28" y1="467.01" x2="390.28" y2="458.76" stroke="#111" stroke-width="1.5"/>
<line x1="388.38" y1="459.46" x2="392.18" y2="459.46" stroke="#111" stroke-width="1.5"/>
<rect transform="translate(386.23 0)" x="0.5" y="467.51" width="7.10" height="104.99" fill="url(#p2)" stroke="#111" stroke-width="1"/>
<line x1="402.08" y1="464.26" x2="402.08" y2="458.76" stroke="#111" stroke-width="1.5"/>
<line x1="400.18" y1="459.46" x2="403.98" y2="459.46" stroke="#111" stroke-width="1.5"/>
<rect transform="translate(398.03 0)" x="0.5" y="464.76" width="7.10" height="107.74" fill="url(#p3)" stroke="#111" stroke-width="1"/>
<line x1="413.88" y1="464.26" x2="413.88" y2="462.28" stroke="#8c8c8c" stroke-width="1.5"/>
<line x1="411.98" y1="462.98" x2="415.78" y2="462.98" stroke="#8c8c8c" stroke-width="1.5"/>
<rect transform="translate(409.83 0)" x="0.5" y="464.76" width="7.10" height="107.74" fill="url(#p4)" stroke="#8c8c8c" stroke-width="1"/>
<line x1="425.68" y1="521.46" x2="425.68" y2="514.42" stroke="#111" stroke-width="1.5"/>
<line x1="423.78" y1="515.12" x2="427.58" y2="515.12" stroke="#111" stroke-width="1.5"/>
<rect transform="translate(421.63 0)" x="0.5" y="521.96" width="7.10" height="50.54" fill="url(#p6)" stroke="#111" stroke-width="1"/>
<ellipse cx="425.68" cy="506.74" rx="1.76" ry="0.96" transform="rotate(-90.0 425.68 506.74)" fill="#111"/><ellipse cx="428.04" cy="508.45" rx="1.76" ry="0.96" transform="rotate(-18.0 428.04 508.45)" fill="#111"/><ellipse cx="427.14" cy="511.23" rx="1.76" ry="0.96" transform="rotate(54.0 427.14 511.23)" fill="#111"/><ellipse cx="424.22" cy="511.23" rx="1.76" ry="0.96" transform="rotate(126.0 424.22 511.23)" fill="#111"/><ellipse cx="423.32" cy="508.45" rx="1.76" ry="0.96" transform="rotate(198.0 423.32 508.45)" fill="#111"/>
<line x1="445.45" y1="462.28" x2="445.45" y2="460.19" stroke="#111" stroke-width="1.5"/>
<line x1="443.55" y1="460.89" x2="447.35" y2="460.89" stroke="#111" stroke-width="1.5"/>
<rect transform="translate(441.40 0)" x="0.5" y="462.78" width="7.10" height="109.72" fill="url(#p1)" stroke="#111" stroke-width="1"/>
<line x1="457.25" y1="467.01" x2="457.25" y2="462.72" stroke="#111" stroke-width="1.5"/>
<line x1="455.35" y1="463.42" x2="459.15" y2="463.42" stroke="#111" stroke-width="1.5"/>
<rect transform="translate(453.20 0)" x="0.5" y="467.51" width="7.10" height="104.99" fill="url(#p2)" stroke="#111" stroke-width="1"/>
<line x1="469.05" y1="509.25" x2="469.05" y2="498.36" stroke="#111" stroke-width="1.5"/>
<line x1="467.15" y1="499.06" x2="470.95" y2="499.06" stroke="#111" stroke-width="1.5"/>
<rect transform="translate(465.00 0)" x="0.5" y="509.75" width="7.10" height="62.75" fill="url(#p3)" stroke="#111" stroke-width="1"/>
<ellipse cx="469.05" cy="490.68" rx="1.76" ry="0.96" transform="rotate(-90.0 469.05 490.68)" fill="#111"/><ellipse cx="471.41" cy="492.39" rx="1.76" ry="0.96" transform="rotate(-18.0 471.41 492.39)" fill="#111"/><ellipse cx="470.51" cy="495.17" rx="1.76" ry="0.96" transform="rotate(54.0 470.51 495.17)" fill="#111"/><ellipse cx="467.59" cy="495.17" rx="1.76" ry="0.96" transform="rotate(126.0 467.59 495.17)" fill="#111"/><ellipse cx="466.69" cy="492.39" rx="1.76" ry="0.96" transform="rotate(198.0 466.69 492.39)" fill="#111"/>
<line x1="480.85" y1="537.85" x2="480.85" y2="537.08" stroke="#8c8c8c" stroke-width="1.5"/>
<line x1="478.95" y1="537.78" x2="482.75" y2="537.78" stroke="#8c8c8c" stroke-width="1.5"/>
<rect transform="translate(476.80 0)" x="0.5" y="538.35" width="7.10" height="34.15" fill="url(#p4)" stroke="#8c8c8c" stroke-width="1"/>
<ellipse cx="480.85" cy="529.40" rx="1.76" ry="0.96" transform="rotate(-90.0 480.85 529.40)" fill="#111"/><ellipse cx="483.21" cy="531.11" rx="1.76" ry="0.96" transform="rotate(-18.0 483.21 531.11)" fill="#111"/><ellipse cx="482.31" cy="533.89" rx="1.76" ry="0.96" transform="rotate(54.0 482.31 533.89)" fill="#111"/><ellipse cx="479.39" cy="533.89" rx="1.76" ry="0.96" transform="rotate(126.0 479.39 533.89)" fill="#111"/><ellipse cx="478.49" cy="531.11" rx="1.76" ry="0.96" transform="rotate(198.0 478.49 531.11)" fill="#111"/>
<line x1="492.65" y1="556.33" x2="492.65" y2="553.25" stroke="#111" stroke-width="1.5"/>
<line x1="490.75" y1="553.95" x2="494.55" y2="553.95" stroke="#111" stroke-width="1.5"/>
<rect transform="translate(488.60 0)" x="0.5" y="556.83" width="7.10" height="15.67" fill="url(#p6)" stroke="#111" stroke-width="1"/>
<ellipse cx="492.65" cy="545.57" rx="1.76" ry="0.96" transform="rotate(-90.0 492.65 545.57)" fill="#111"/><ellipse cx="495.01" cy="547.28" rx="1.76" ry="0.96" transform="rotate(-18.0 495.01 547.28)" fill="#111"/><ellipse cx="494.11" cy="550.06" rx="1.76" ry="0.96" transform="rotate(54.0 494.11 550.06)" fill="#111"/><ellipse cx="491.19" cy="550.06" rx="1.76" ry="0.96" transform="rotate(126.0 491.19 550.06)" fill="#111"/><ellipse cx="490.29" cy="547.28" rx="1.76" ry="0.96" transform="rotate(198.0 490.29 547.28)" fill="#111"/>
<line x1="512.42" y1="461.95" x2="512.42" y2="461.07" stroke="#111" stroke-width="1.5"/>
<line x1="510.52" y1="461.77" x2="514.32" y2="461.77" stroke="#111" stroke-width="1.5"/>
<rect transform="translate(508.37 0)" x="0.5" y="462.45" width="7.10" height="110.05" fill="url(#p1)" stroke="#111" stroke-width="1"/>
<line x1="524.22" y1="465.91" x2="524.22" y2="465.25" stroke="#111" stroke-width="1.5"/>
<line x1="522.32" y1="465.95" x2="526.12" y2="465.95" stroke="#111" stroke-width="1.5"/>
<rect transform="translate(520.17 0)" x="0.5" y="466.41" width="7.10" height="106.09" fill="url(#p2)" stroke="#111" stroke-width="1"/>
<line x1="536.02" y1="509.25" x2="536.02" y2="495.39" stroke="#111" stroke-width="1.5"/>
<line x1="534.12" y1="496.09" x2="537.92" y2="496.09" stroke="#111" stroke-width="1.5"/>
<rect transform="translate(531.97 0)" x="0.5" y="509.75" width="7.10" height="62.75" fill="url(#p3)" stroke="#111" stroke-width="1"/>
<ellipse cx="536.02" cy="487.71" rx="1.76" ry="0.96" transform="rotate(-90.0 536.02 487.71)" fill="#111"/><ellipse cx="538.38" cy="489.42" rx="1.76" ry="0.96" transform="rotate(-18.0 538.38 489.42)" fill="#111"/><ellipse cx="537.48" cy="492.20" rx="1.76" ry="0.96" transform="rotate(54.0 537.48 492.20)" fill="#111"/><ellipse cx="534.56" cy="492.20" rx="1.76" ry="0.96" transform="rotate(126.0 534.56 492.20)" fill="#111"/><ellipse cx="533.66" cy="489.42" rx="1.76" ry="0.96" transform="rotate(198.0 533.66 489.42)" fill="#111"/>
<line x1="547.82" y1="531.80" x2="547.82" y2="521.13" stroke="#8c8c8c" stroke-width="1.5"/>
<line x1="545.92" y1="521.83" x2="549.72" y2="521.83" stroke="#8c8c8c" stroke-width="1.5"/>
<rect transform="translate(543.77 0)" x="0.5" y="532.30" width="7.10" height="40.20" fill="url(#p4)" stroke="#8c8c8c" stroke-width="1"/>
<ellipse cx="547.82" cy="513.45" rx="1.76" ry="0.96" transform="rotate(-90.0 547.82 513.45)" fill="#111"/><ellipse cx="550.18" cy="515.16" rx="1.76" ry="0.96" transform="rotate(-18.0 550.18 515.16)" fill="#111"/><ellipse cx="549.28" cy="517.94" rx="1.76" ry="0.96" transform="rotate(54.0 549.28 517.94)" fill="#111"/><ellipse cx="546.36" cy="517.94" rx="1.76" ry="0.96" transform="rotate(126.0 546.36 517.94)" fill="#111"/><ellipse cx="545.46" cy="515.16" rx="1.76" ry="0.96" transform="rotate(198.0 545.46 515.16)" fill="#111"/>
<line x1="559.62" y1="550.17" x2="559.62" y2="537.85" stroke="#111" stroke-width="1.5"/>
<line x1="557.72" y1="538.55" x2="561.52" y2="538.55" stroke="#111" stroke-width="1.5"/>
<rect transform="translate(555.57 0)" x="0.5" y="550.67" width="7.10" height="21.83" fill="url(#p6)" stroke="#111" stroke-width="1"/>
<ellipse cx="559.62" cy="530.17" rx="1.76" ry="0.96" transform="rotate(-90.0 559.62 530.17)" fill="#111"/><ellipse cx="561.98" cy="531.88" rx="1.76" ry="0.96" transform="rotate(-18.0 561.98 531.88)" fill="#111"/><ellipse cx="561.08" cy="534.66" rx="1.76" ry="0.96" transform="rotate(54.0 561.08 534.66)" fill="#111"/><ellipse cx="558.16" cy="534.66" rx="1.76" ry="0.96" transform="rotate(126.0 558.16 534.66)" fill="#111"/><ellipse cx="557.26" cy="531.88" rx="1.76" ry="0.96" transform="rotate(198.0 557.26 531.88)" fill="#111"/>
<line x1="579.39" y1="462.28" x2="579.39" y2="461.40" stroke="#111" stroke-width="1.5"/>
<line x1="577.49" y1="462.10" x2="581.29" y2="462.10" stroke="#111" stroke-width="1.5"/>
<rect transform="translate(575.34 0)" x="0.5" y="462.78" width="7.10" height="109.72" fill="url(#p1)" stroke="#111" stroke-width="1"/>
<line x1="591.19" y1="503.09" x2="591.19" y2="484.28" stroke="#111" stroke-width="1.5"/>
<line x1="589.29" y1="484.98" x2="593.09" y2="484.98" stroke="#111" stroke-width="1.5"/>
<rect transform="translate(587.14 0)" x="0.5" y="503.59" width="7.10" height="68.91" fill="url(#p2)" stroke="#111" stroke-width="1"/>
<ellipse cx="591.19" cy="476.60" rx="1.76" ry="0.96" transform="rotate(-90.0 591.19 476.60)" fill="#111"/><ellipse cx="593.55" cy="478.31" rx="1.76" ry="0.96" transform="rotate(-18.0 593.55 478.31)" fill="#111"/><ellipse cx="592.65" cy="481.09" rx="1.76" ry="0.96" transform="rotate(54.0 592.65 481.09)" fill="#111"/><ellipse cx="589.73" cy="481.09" rx="1.76" ry="0.96" transform="rotate(126.0 589.73 481.09)" fill="#111"/><ellipse cx="588.83" cy="478.31" rx="1.76" ry="0.96" transform="rotate(198.0 588.83 478.31)" fill="#111"/>
<line x1="602.99" y1="532.35" x2="602.99" y2="530.70" stroke="#111" stroke-width="1.5"/>
<line x1="601.09" y1="531.40" x2="604.89" y2="531.40" stroke="#111" stroke-width="1.5"/>
<rect transform="translate(598.94 0)" x="0.5" y="532.85" width="7.10" height="39.65" fill="url(#p3)" stroke="#111" stroke-width="1"/>
<ellipse cx="602.99" cy="523.02" rx="1.76" ry="0.96" transform="rotate(-90.0 602.99 523.02)" fill="#111"/><ellipse cx="605.35" cy="524.73" rx="1.76" ry="0.96" transform="rotate(-18.0 605.35 524.73)" fill="#111"/><ellipse cx="604.45" cy="527.51" rx="1.76" ry="0.96" transform="rotate(54.0 604.45 527.51)" fill="#111"/><ellipse cx="601.53" cy="527.51" rx="1.76" ry="0.96" transform="rotate(126.0 601.53 527.51)" fill="#111"/><ellipse cx="600.63" cy="524.73" rx="1.76" ry="0.96" transform="rotate(198.0 600.63 524.73)" fill="#111"/>
<line x1="614.79" y1="553.25" x2="614.79" y2="550.17" stroke="#8c8c8c" stroke-width="1.5"/>
<line x1="612.89" y1="550.87" x2="616.69" y2="550.87" stroke="#8c8c8c" stroke-width="1.5"/>
<rect transform="translate(610.74 0)" x="0.5" y="553.75" width="7.10" height="18.75" fill="url(#p4)" stroke="#8c8c8c" stroke-width="1"/>
<ellipse cx="614.79" cy="542.49" rx="1.76" ry="0.96" transform="rotate(-90.0 614.79 542.49)" fill="#111"/><ellipse cx="617.15" cy="544.20" rx="1.76" ry="0.96" transform="rotate(-18.0 617.15 544.20)" fill="#111"/><ellipse cx="616.25" cy="546.98" rx="1.76" ry="0.96" transform="rotate(54.0 616.25 546.98)" fill="#111"/><ellipse cx="613.33" cy="546.98" rx="1.76" ry="0.96" transform="rotate(126.0 613.33 546.98)" fill="#111"/><ellipse cx="612.43" cy="544.20" rx="1.76" ry="0.96" transform="rotate(198.0 612.43 544.20)" fill="#111"/>
<line x1="626.59" y1="557.87" x2="626.59" y2="551.16" stroke="#111" stroke-width="1.5"/>
<line x1="624.69" y1="551.86" x2="628.49" y2="551.86" stroke="#111" stroke-width="1.5"/>
<rect transform="translate(622.54 0)" x="0.5" y="558.37" width="7.10" height="14.13" fill="url(#p6)" stroke="#111" stroke-width="1"/>
<ellipse cx="626.59" cy="543.48" rx="1.76" ry="0.96" transform="rotate(-90.0 626.59 543.48)" fill="#111"/><ellipse cx="628.95" cy="545.19" rx="1.76" ry="0.96" transform="rotate(-18.0 628.95 545.19)" fill="#111"/><ellipse cx="628.05" cy="547.97" rx="1.76" ry="0.96" transform="rotate(54.0 628.05 547.97)" fill="#111"/><ellipse cx="625.13" cy="547.97" rx="1.76" ry="0.96" transform="rotate(126.0 625.13 547.97)" fill="#111"/><ellipse cx="624.23" cy="545.19" rx="1.76" ry="0.96" transform="rotate(198.0 624.23 545.19)" fill="#111"/>
<line x1="102.80" y1="439.30" x2="102.80" y2="572.50" stroke="#000" stroke-width="2.7"/>
<line x1="95.50" y1="572.50" x2="637.10" y2="572.50" stroke="#000" stroke-width="2.7"/>
<line x1="95.30" y1="572.50" x2="102.80" y2="572.50" stroke="#000" stroke-width="2.7"/>
<text transform="translate(92.80 580.50) scale(1 1.07)" text-anchor="end" class="tk">0</text>
<line x1="95.30" y1="528.50" x2="102.80" y2="528.50" stroke="#000" stroke-width="2.7"/>
<text transform="translate(92.80 536.50) scale(1 1.07)" text-anchor="end" class="tk">40</text>
<line x1="95.30" y1="484.50" x2="102.80" y2="484.50" stroke="#000" stroke-width="2.7"/>
<text transform="translate(92.80 492.50) scale(1 1.07)" text-anchor="end" class="tk">80</text>
<line x1="95.30" y1="440.50" x2="102.80" y2="440.50" stroke="#000" stroke-width="2.7"/>
<text transform="translate(92.80 448.50) scale(1 1.07)" text-anchor="end" class="tk">120</text>
<line x1="134.20" y1="572.50" x2="134.20" y2="580.00" stroke="#000" stroke-width="2.7"/>
<text x="134.20" y="602.00" text-anchor="middle" class="tk">1</text>
<line x1="201.17" y1="572.50" x2="201.17" y2="580.00" stroke="#000" stroke-width="2.7"/>
<text x="201.17" y="602.00" text-anchor="middle" class="tk">2</text>
<line x1="268.14" y1="572.50" x2="268.14" y2="580.00" stroke="#000" stroke-width="2.7"/>
<text x="268.14" y="602.00" text-anchor="middle" class="tk">3</text>
<line x1="335.11" y1="572.50" x2="335.11" y2="580.00" stroke="#000" stroke-width="2.7"/>
<text x="335.11" y="602.00" text-anchor="middle" class="tk">4</text>
<line x1="402.08" y1="572.50" x2="402.08" y2="580.00" stroke="#000" stroke-width="2.7"/>
<text x="402.08" y="602.00" text-anchor="middle" class="tk">5</text>
<line x1="469.05" y1="572.50" x2="469.05" y2="580.00" stroke="#000" stroke-width="2.7"/>
<text x="469.05" y="602.00" text-anchor="middle" class="tk">6</text>
<line x1="536.02" y1="572.50" x2="536.02" y2="580.00" stroke="#000" stroke-width="2.7"/>
<text x="536.02" y="602.00" text-anchor="middle" class="tk">7</text>
<line x1="602.99" y1="572.50" x2="602.99" y2="580.00" stroke="#000" stroke-width="2.7"/>
<text x="602.99" y="602.00" text-anchor="middle" class="tk">8</text>
<text transform="translate(369.30 359.20) scale(1 1.07)" text-anchor="middle" class="ti">HCT116</text>
<text transform="translate(1.30 386.40) scale(1.18 1)" class="lt">B</text>
<text x="369.20" y="641.20" text-anchor="middle" class="ax">Compounds</text>
<text transform="translate(57.80 501.20) rotate(-90)" text-anchor="middle" class="yl">Cell survival rate (%)</text>
<rect transform="translate(597.20 346.70)" x="0.5" y="0.5" width="16.6" height="12.80" fill="url(#p1)" stroke="#111" stroke-width="1"/>
<text transform="translate(624.50 359.70) scale(1.06 1)" class="lg">Control</text>
<rect transform="translate(597.20 365.10)" x="0.5" y="0.5" width="16.6" height="13.15" fill="url(#p2)" stroke="#111" stroke-width="1"/>
<text transform="translate(624.50 378.45) scale(1.06 1)" class="lg">0.02μM</text>
<rect transform="translate(597.20 383.50)" x="0.5" y="0.5" width="16.6" height="13.50" fill="url(#p3)" stroke="#111" stroke-width="1"/>
<text transform="translate(624.50 397.20) scale(1.06 1)" class="lg">0.2μM</text>
<rect transform="translate(597.20 401.90)" x="0.5" y="0.5" width="16.6" height="13.85" fill="url(#p4)" stroke="#8c8c8c" stroke-width="1"/>
<text transform="translate(624.50 415.95) scale(1.06 1)" class="lg">2μM</text>
<rect transform="translate(597.20 420.30)" x="0.5" y="0.5" width="16.6" height="14.20" fill="url(#p6)" stroke="#111" stroke-width="1"/>
<text transform="translate(624.50 434.70) scale(1.06 1)" class="lg">20μM</text>
<line x1="109.15" y1="797.98" x2="109.15" y2="795.89" stroke="#111" stroke-width="1.5"/>
<line x1="107.25" y1="796.59" x2="111.05" y2="796.59" stroke="#111" stroke-width="1.5"/>
<rect transform="translate(105.10 0)" x="0.5" y="798.48" width="7.10" height="109.62" fill="url(#p1)" stroke="#111" stroke-width="1"/>
<line x1="120.95" y1="808.64" x2="120.95" y2="807.21" stroke="#111" stroke-width="1.5"/>
<line x1="119.05" y1="807.91" x2="122.85" y2="807.91" stroke="#111" stroke-width="1.5"/>
<rect transform="translate(116.90 0)" x="0.5" y="809.14" width="7.10" height="98.96" fill="url(#p2)" stroke="#111" stroke-width="1"/>
<line x1="132.75" y1="807.21" x2="132.75" y2="801.50" stroke="#111" stroke-width="1.5"/>
<line x1="130.85" y1="802.20" x2="134.65" y2="802.20" stroke="#111" stroke-width="1.5"/>
<rect transform="translate(128.70 0)" x="0.5" y="807.71" width="7.10" height="100.39" fill="url(#p3)" stroke="#111" stroke-width="1"/>
<line x1="144.55" y1="808.20" x2="144.55" y2="806.22" stroke="#8c8c8c" stroke-width="1.5"/>
<line x1="142.65" y1="806.92" x2="146.45" y2="806.92" stroke="#8c8c8c" stroke-width="1.5"/>
<rect transform="translate(140.50 0)" x="0.5" y="808.70" width="7.10" height="99.40" fill="url(#p4)" stroke="#8c8c8c" stroke-width="1"/>
<line x1="156.35" y1="808.64" x2="156.35" y2="793.25" stroke="#8c8c8c" stroke-width="1.5"/>
<line x1="154.45" y1="793.95" x2="158.25" y2="793.95" stroke="#8c8c8c" stroke-width="1.5"/>
<rect transform="translate(152.30 0)" x="0.5" y="809.14" width="7.10" height="98.96" fill="url(#p5)" stroke="#8c8c8c" stroke-width="1"/>
<line x1="175.98" y1="797.98" x2="175.98" y2="795.34" stroke="#111" stroke-width="1.5"/>
<line x1="174.08" y1="796.04" x2="177.88" y2="796.04" stroke="#111" stroke-width="1.5"/>
<rect transform="translate(171.93 0)" x="0.5" y="798.48" width="7.10" height="109.62" fill="url(#p1)" stroke="#111" stroke-width="1"/>
<line x1="187.78" y1="805.12" x2="187.78" y2="803.48" stroke="#111" stroke-width="1.5"/>
<line x1="185.88" y1="804.18" x2="189.68" y2="804.18" stroke="#111" stroke-width="1.5"/>
<rect transform="translate(183.73 0)" x="0.5" y="805.62" width="7.10" height="102.48" fill="url(#p2)" stroke="#111" stroke-width="1"/>
<line x1="199.58" y1="804.90" x2="199.58" y2="803.37" stroke="#111" stroke-width="1.5"/>
<line x1="197.68" y1="804.07" x2="201.48" y2="804.07" stroke="#111" stroke-width="1.5"/>
<rect transform="translate(195.53 0)" x="0.5" y="805.40" width="7.10" height="102.70" fill="url(#p3)" stroke="#111" stroke-width="1"/>
<line x1="211.38" y1="799.41" x2="211.38" y2="794.35" stroke="#8c8c8c" stroke-width="1.5"/>
<line x1="209.48" y1="795.05" x2="213.28" y2="795.05" stroke="#8c8c8c" stroke-width="1.5"/>
<rect transform="translate(207.33 0)" x="0.5" y="799.91" width="7.10" height="108.19" fill="url(#p4)" stroke="#8c8c8c" stroke-width="1"/>
<line x1="223.18" y1="807.98" x2="223.18" y2="799.96" stroke="#8c8c8c" stroke-width="1.5"/>
<line x1="221.28" y1="800.66" x2="225.08" y2="800.66" stroke="#8c8c8c" stroke-width="1.5"/>
<rect transform="translate(219.13 0)" x="0.5" y="808.48" width="7.10" height="99.62" fill="url(#p5)" stroke="#8c8c8c" stroke-width="1"/>
<line x1="242.81" y1="797.98" x2="242.81" y2="797.10" stroke="#111" stroke-width="1.5"/>
<line x1="240.91" y1="797.80" x2="244.71" y2="797.80" stroke="#111" stroke-width="1.5"/>
<rect transform="translate(238.76 0)" x="0.5" y="798.48" width="7.10" height="109.62" fill="url(#p1)" stroke="#111" stroke-width="1"/>
<line x1="254.61" y1="831.06" x2="254.61" y2="826.55" stroke="#111" stroke-width="1.5"/>
<line x1="252.71" y1="827.25" x2="256.51" y2="827.25" stroke="#111" stroke-width="1.5"/>
<rect transform="translate(250.56 0)" x="0.5" y="831.56" width="7.10" height="76.54" fill="url(#p2)" stroke="#111" stroke-width="1"/>
<ellipse cx="254.61" cy="818.87" rx="1.76" ry="0.96" transform="rotate(-90.0 254.61 818.87)" fill="#111"/><ellipse cx="256.97" cy="820.59" rx="1.76" ry="0.96" transform="rotate(-18.0 256.97 820.59)" fill="#111"/><ellipse cx="256.07" cy="823.36" rx="1.76" ry="0.96" transform="rotate(54.0 256.07 823.36)" fill="#111"/><ellipse cx="253.15" cy="823.36" rx="1.76" ry="0.96" transform="rotate(126.0 253.15 823.36)" fill="#111"/><ellipse cx="252.25" cy="820.59" rx="1.76" ry="0.96" transform="rotate(198.0 252.25 820.59)" fill="#111"/>
<line x1="266.41" y1="866.89" x2="266.41" y2="857.33" stroke="#111" stroke-width="1.5"/>
<line x1="264.51" y1="858.03" x2="268.31" y2="858.03" stroke="#111" stroke-width="1.5"/>
<rect transform="translate(262.36 0)" x="0.5" y="867.39" width="7.10" height="40.71" fill="url(#p3)" stroke="#111" stroke-width="1"/>
<ellipse cx="266.41" cy="849.65" rx="1.76" ry="0.96" transform="rotate(-90.0 266.41 849.65)" fill="#111"/><ellipse cx="268.77" cy="851.36" rx="1.76" ry="0.96" transform="rotate(-18.0 268.77 851.36)" fill="#111"/><ellipse cx="267.87" cy="854.13" rx="1.76" ry="0.96" transform="rotate(54.0 267.87 854.13)" fill="#111"/><ellipse cx="264.95" cy="854.13" rx="1.76" ry="0.96" transform="rotate(126.0 264.95 854.13)" fill="#111"/><ellipse cx="264.05" cy="851.36" rx="1.76" ry="0.96" transform="rotate(198.0 264.05 851.36)" fill="#111"/>
<line x1="278.21" y1="888.32" x2="278.21" y2="881.17" stroke="#8c8c8c" stroke-width="1.5"/>
<line x1="276.31" y1="881.87" x2="280.11" y2="881.87" stroke="#8c8c8c" stroke-width="1.5"/>
<rect transform="translate(274.16 0)" x="0.5" y="888.82" width="7.10" height="19.28" fill="url(#p4)" stroke="#8c8c8c" stroke-width="1"/>
<ellipse cx="278.21" cy="873.49" rx="1.76" ry="0.96" transform="rotate(-90.0 278.21 873.49)" fill="#111"/><ellipse cx="280.57" cy="875.21" rx="1.76" ry="0.96" transform="rotate(-18.0 280.57 875.21)" fill="#111"/><ellipse cx="279.67" cy="877.98" rx="1.76" ry="0.96" transform="rotate(54.0 279.67 877.98)" fill="#111"/><ellipse cx="276.75" cy="877.98" rx="1.76" ry="0.96" transform="rotate(126.0 276.75 877.98)" fill="#111"/><ellipse cx="275.85" cy="875.21" rx="1.76" ry="0.96" transform="rotate(198.0 275.85 875.21)" fill="#111"/>
<line x1="290.01" y1="889.31" x2="290.01" y2="881.61" stroke="#8c8c8c" stroke-width="1.5"/>
<line x1="288.11" y1="882.31" x2="291.91" y2="882.31" stroke="#8c8c8c" stroke-width="1.5"/>
<rect transform="translate(285.96 0)" x="0.5" y="889.81" width="7.10" height="18.29" fill="url(#p5)" stroke="#8c8c8c" stroke-width="1"/>
<ellipse cx="290.01" cy="873.93" rx="1.76" ry="0.96" transform="rotate(-90.0 290.01 873.93)" fill="#111"/><ellipse cx="292.37" cy="875.65" rx="1.76" ry="0.96" transform="rotate(-18.0 292.37 875.65)" fill="#111"/><ellipse cx="291.47" cy="878.42" rx="1.76" ry="0.96" transform="rotate(54.0 291.47 878.42)" fill="#111"/><ellipse cx="288.55" cy="878.42" rx="1.76" ry="0.96" transform="rotate(126.0 288.55 878.42)" fill="#111"/><ellipse cx="287.65" cy="875.65" rx="1.76" ry="0.96" transform="rotate(198.0 287.65 875.65)" fill="#111"/>
<line x1="309.64" y1="797.98" x2="309.64" y2="796.33" stroke="#111" stroke-width="1.5"/>
<line x1="307.74" y1="797.03" x2="311.54" y2="797.03" stroke="#111" stroke-width="1.5"/>
<rect transform="translate(305.59 0)" x="0.5" y="798.48" width="7.10" height="109.62" fill="url(#p1)" stroke="#111" stroke-width="1"/>
<line x1="321.44" y1="811.06" x2="321.44" y2="791.61" stroke="#111" stroke-width="1.5"/>
<line x1="319.54" y1="792.31" x2="323.34" y2="792.31" stroke="#111" stroke-width="1.5"/>
<rect transform="translate(317.39 0)" x="0.5" y="811.56" width="7.10" height="96.54" fill="url(#p2)" stroke="#111" stroke-width="1"/>
<line x1="333.24" y1="811.06" x2="333.24" y2="793.91" stroke="#111" stroke-width="1.5"/>
<line x1="331.34" y1="794.61" x2="335.14" y2="794.61" stroke="#111" stroke-width="1.5"/>
<rect transform="translate(329.19 0)" x="0.5" y="811.56" width="7.10" height="96.54" fill="url(#p3)" stroke="#111" stroke-width="1"/>
<line x1="345.04" y1="817.76" x2="345.04" y2="804.46" stroke="#8c8c8c" stroke-width="1.5"/>
<line x1="343.14" y1="805.16" x2="346.94" y2="805.16" stroke="#8c8c8c" stroke-width="1.5"/>
<rect transform="translate(340.99 0)" x="0.5" y="818.26" width="7.10" height="89.84" fill="url(#p4)" stroke="#8c8c8c" stroke-width="1"/>
<line x1="356.84" y1="867.33" x2="356.84" y2="857.66" stroke="#8c8c8c" stroke-width="1.5"/>
<line x1="354.94" y1="858.36" x2="358.74" y2="858.36" stroke="#8c8c8c" stroke-width="1.5"/>
<rect transform="translate(352.79 0)" x="0.5" y="867.83" width="7.10" height="40.27" fill="url(#p5)" stroke="#8c8c8c" stroke-width="1"/>
<ellipse cx="356.84" cy="849.98" rx="1.76" ry="0.96" transform="rotate(-90.0 356.84 849.98)" fill="#111"/><ellipse cx="359.20" cy="851.69" rx="1.76" ry="0.96" transform="rotate(-18.0 359.20 851.69)" fill="#111"/><ellipse cx="358.30" cy="854.46" rx="1.76" ry="0.96" transform="rotate(54.0 358.30 854.46)" fill="#111"/><ellipse cx="355.38" cy="854.46" rx="1.76" ry="0.96" transform="rotate(126.0 355.38 854.46)" fill="#111"/><ellipse cx="354.48" cy="851.69" rx="1.76" ry="0.96" transform="rotate(198.0 354.48 851.69)" fill="#111"/>
<line x1="376.47" y1="797.98" x2="376.47" y2="795.34" stroke="#111" stroke-width="1.5"/>
<line x1="374.57" y1="796.04" x2="378.37" y2="796.04" stroke="#111" stroke-width="1.5"/>
<rect transform="translate(372.42 0)" x="0.5" y="798.48" width="7.10" height="109.62" fill="url(#p1)" stroke="#111" stroke-width="1"/>
<line x1="388.27" y1="797.98" x2="388.27" y2="795.01" stroke="#111" stroke-width="1.5"/>
<line x1="386.37" y1="795.71" x2="390.17" y2="795.71" stroke="#111" stroke-width="1.5"/>
<rect transform="translate(384.22 0)" x="0.5" y="798.48" width="7.10" height="109.62" fill="url(#p2)" stroke="#111" stroke-width="1"/>
<line x1="400.07" y1="799.41" x2="400.07" y2="796.77" stroke="#111" stroke-width="1.5"/>
<line x1="398.17" y1="797.47" x2="401.97" y2="797.47" stroke="#111" stroke-width="1.5"/>
<rect transform="translate(396.02 0)" x="0.5" y="799.91" width="7.10" height="108.19" fill="url(#p3)" stroke="#111" stroke-width="1"/>
<line x1="411.87" y1="803.15" x2="411.87" y2="797.98" stroke="#8c8c8c" stroke-width="1.5"/>
<line x1="409.97" y1="798.68" x2="413.77" y2="798.68" stroke="#8c8c8c" stroke-width="1.5"/>
<rect transform="translate(407.82 0)" x="0.5" y="803.65" width="7.10" height="104.45" fill="url(#p4)" stroke="#8c8c8c" stroke-width="1"/>
<line x1="423.67" y1="840.95" x2="423.67" y2="833.48" stroke="#8c8c8c" stroke-width="1.5"/>
<line x1="421.77" y1="834.18" x2="425.57" y2="834.18" stroke="#8c8c8c" stroke-width="1.5"/>
<rect transform="translate(419.62 0)" x="0.5" y="841.45" width="7.10" height="66.65" fill="url(#p5)" stroke="#8c8c8c" stroke-width="1"/>
<ellipse cx="423.67" cy="825.80" rx="1.76" ry="0.96" transform="rotate(-90.0 423.67 825.80)" fill="#111"/><ellipse cx="426.03" cy="827.51" rx="1.76" ry="0.96" transform="rotate(-18.0 426.03 827.51)" fill="#111"/><ellipse cx="425.13" cy="830.28" rx="1.76" ry="0.96" transform="rotate(54.0 425.13 830.28)" fill="#111"/><ellipse cx="422.21" cy="830.28" rx="1.76" ry="0.96" transform="rotate(126.0 422.21 830.28)" fill="#111"/><ellipse cx="421.31" cy="827.51" rx="1.76" ry="0.96" transform="rotate(198.0 421.31 827.51)" fill="#111"/>
<line x1="443.30" y1="797.98" x2="443.30" y2="796.77" stroke="#111" stroke-width="1.5"/>
<line x1="441.40" y1="797.47" x2="445.20" y2="797.47" stroke="#111" stroke-width="1.5"/>
<rect transform="translate(439.25 0)" x="0.5" y="798.48" width="7.10" height="109.62" fill="url(#p1)" stroke="#111" stroke-width="1"/>
<line x1="455.10" y1="804.90" x2="455.10" y2="795.89" stroke="#111" stroke-width="1.5"/>
<line x1="453.20" y1="796.59" x2="457.00" y2="796.59" stroke="#111" stroke-width="1.5"/>
<rect transform="translate(451.05 0)" x="0.5" y="805.40" width="7.10" height="102.70" fill="url(#p2)" stroke="#111" stroke-width="1"/>
<line x1="466.90" y1="828.97" x2="466.90" y2="813.70" stroke="#111" stroke-width="1.5"/>
<line x1="465.00" y1="814.40" x2="468.80" y2="814.40" stroke="#111" stroke-width="1.5"/>
<rect transform="translate(462.85 0)" x="0.5" y="829.47" width="7.10" height="78.63" fill="url(#p3)" stroke="#111" stroke-width="1"/>
<ellipse cx="466.90" cy="806.02" rx="1.76" ry="0.96" transform="rotate(-90.0 466.90 806.02)" fill="#111"/><ellipse cx="469.26" cy="807.73" rx="1.76" ry="0.96" transform="rotate(-18.0 469.26 807.73)" fill="#111"/><ellipse cx="468.36" cy="810.50" rx="1.76" ry="0.96" transform="rotate(54.0 468.36 810.50)" fill="#111"/><ellipse cx="465.44" cy="810.50" rx="1.76" ry="0.96" transform="rotate(126.0 465.44 810.50)" fill="#111"/><ellipse cx="464.54" cy="807.73" rx="1.76" ry="0.96" transform="rotate(198.0 464.54 807.73)" fill="#111"/>
<line x1="478.70" y1="869.85" x2="478.70" y2="859.30" stroke="#8c8c8c" stroke-width="1.5"/>
<line x1="476.80" y1="860.00" x2="480.60" y2="860.00" stroke="#8c8c8c" stroke-width="1.5"/>
<rect transform="translate(474.65 0)" x="0.5" y="870.35" width="7.10" height="37.75" fill="url(#p4)" stroke="#8c8c8c" stroke-width="1"/>
<ellipse cx="478.70" cy="851.62" rx="1.76" ry="0.96" transform="rotate(-90.0 478.70 851.62)" fill="#111"/><ellipse cx="481.06" cy="853.34" rx="1.76" ry="0.96" transform="rotate(-18.0 481.06 853.34)" fill="#111"/><ellipse cx="480.16" cy="856.11" rx="1.76" ry="0.96" transform="rotate(54.0 480.16 856.11)" fill="#111"/><ellipse cx="477.24" cy="856.11" rx="1.76" ry="0.96" transform="rotate(126.0 477.24 856.11)" fill="#111"/><ellipse cx="476.34" cy="853.34" rx="1.76" ry="0.96" transform="rotate(198.0 476.34 853.34)" fill="#111"/>
<line x1="490.50" y1="884.25" x2="490.50" y2="869.85" stroke="#8c8c8c" stroke-width="1.5"/>
<line x1="488.60" y1="870.55" x2="492.40" y2="870.55" stroke="#8c8c8c" stroke-width="1.5"/>
<rect transform="translate(486.45 0)" x="0.5" y="884.75" width="7.10" height="23.35" fill="url(#p5)" stroke="#8c8c8c" stroke-width="1"/>
<ellipse cx="490.50" cy="862.17" rx="1.76" ry="0.96" transform="rotate(-90.0 490.50 862.17)" fill="#111"/><ellipse cx="492.86" cy="863.89" rx="1.76" ry="0.96" transform="rotate(-18.0 492.86 863.89)" fill="#111"/><ellipse cx="491.96" cy="866.66" rx="1.76" ry="0.96" transform="rotate(54.0 491.96 866.66)" fill="#111"/><ellipse cx="489.04" cy="866.66" rx="1.76" ry="0.96" transform="rotate(126.0 489.04 866.66)" fill="#111"/><ellipse cx="488.14" cy="863.89" rx="1.76" ry="0.96" transform="rotate(198.0 488.14 863.89)" fill="#111"/>
<line x1="510.13" y1="797.98" x2="510.13" y2="795.34" stroke="#111" stroke-width="1.5"/>
<line x1="508.23" y1="796.04" x2="512.03" y2="796.04" stroke="#111" stroke-width="1.5"/>
<rect transform="translate(506.08 0)" x="0.5" y="798.48" width="7.10" height="109.62" fill="url(#p1)" stroke="#111" stroke-width="1"/>
<line x1="521.93" y1="850.07" x2="521.93" y2="847.00" stroke="#111" stroke-width="1.5"/>
<line x1="520.03" y1="847.70" x2="523.83" y2="847.70" stroke="#111" stroke-width="1.5"/>
<rect transform="translate(517.88 0)" x="0.5" y="850.57" width="7.10" height="57.53" fill="url(#p2)" stroke="#111" stroke-width="1"/>
<ellipse cx="521.93" cy="839.32" rx="1.76" ry="0.96" transform="rotate(-90.0 521.93 839.32)" fill="#111"/><ellipse cx="524.29" cy="841.03" rx="1.76" ry="0.96" transform="rotate(-18.0 524.29 841.03)" fill="#111"/><ellipse cx="523.39" cy="843.80" rx="1.76" ry="0.96" transform="rotate(54.0 523.39 843.80)" fill="#111"/><ellipse cx="520.47" cy="843.80" rx="1.76" ry="0.96" transform="rotate(126.0 520.47 843.80)" fill="#111"/><ellipse cx="519.57" cy="841.03" rx="1.76" ry="0.96" transform="rotate(198.0 519.57 841.03)" fill="#111"/>
<line x1="533.73" y1="875.02" x2="533.73" y2="864.36" stroke="#111" stroke-width="1.5"/>
<line x1="531.83" y1="865.06" x2="535.63" y2="865.06" stroke="#111" stroke-width="1.5"/>
<rect transform="translate(529.68 0)" x="0.5" y="875.52" width="7.10" height="32.58" fill="url(#p3)" stroke="#111" stroke-width="1"/>
<ellipse cx="533.73" cy="856.68" rx="1.76" ry="0.96" transform="rotate(-90.0 533.73 856.68)" fill="#111"/><ellipse cx="536.09" cy="858.39" rx="1.76" ry="0.96" transform="rotate(-18.0 536.09 858.39)" fill="#111"/><ellipse cx="535.19" cy="861.17" rx="1.76" ry="0.96" transform="rotate(54.0 535.19 861.17)" fill="#111"/><ellipse cx="532.27" cy="861.17" rx="1.76" ry="0.96" transform="rotate(126.0 532.27 861.17)" fill="#111"/><ellipse cx="531.37" cy="858.39" rx="1.76" ry="0.96" transform="rotate(198.0 531.37 858.39)" fill="#111"/>
<line x1="545.53" y1="881.17" x2="545.53" y2="872.38" stroke="#8c8c8c" stroke-width="1.5"/>
<line x1="543.63" y1="873.08" x2="547.43" y2="873.08" stroke="#8c8c8c" stroke-width="1.5"/>
<rect transform="translate(541.48 0)" x="0.5" y="881.67" width="7.10" height="26.43" fill="url(#p4)" stroke="#8c8c8c" stroke-width="1"/>
<ellipse cx="545.53" cy="864.70" rx="1.76" ry="0.96" transform="rotate(-90.0 545.53 864.70)" fill="#111"/><ellipse cx="547.89" cy="866.42" rx="1.76" ry="0.96" transform="rotate(-18.0 547.89 866.42)" fill="#111"/><ellipse cx="546.99" cy="869.19" rx="1.76" ry="0.96" transform="rotate(54.0 546.99 869.19)" fill="#111"/><ellipse cx="544.07" cy="869.19" rx="1.76" ry="0.96" transform="rotate(126.0 544.07 869.19)" fill="#111"/><ellipse cx="543.17" cy="866.42" rx="1.76" ry="0.96" transform="rotate(198.0 543.17 866.42)" fill="#111"/>
<line x1="557.33" y1="883.81" x2="557.33" y2="870.95" stroke="#8c8c8c" stroke-width="1.5"/>
<line x1="555.43" y1="871.65" x2="559.23" y2="871.65" stroke="#8c8c8c" stroke-width="1.5"/>
<rect transform="translate(553.28 0)" x="0.5" y="884.31" width="7.10" height="23.79" fill="url(#p5)" stroke="#8c8c8c" stroke-width="1"/>
<ellipse cx="557.33" cy="863.27" rx="1.76" ry="0.96" transform="rotate(-90.0 557.33 863.27)" fill="#111"/><ellipse cx="559.69" cy="864.99" rx="1.76" ry="0.96" transform="rotate(-18.0 559.69 864.99)" fill="#111"/><ellipse cx="558.79" cy="867.76" rx="1.76" ry="0.96" transform="rotate(54.0 558.79 867.76)" fill="#111"/><ellipse cx="555.87" cy="867.76" rx="1.76" ry="0.96" transform="rotate(126.0 555.87 867.76)" fill="#111"/><ellipse cx="554.97" cy="864.99" rx="1.76" ry="0.96" transform="rotate(198.0 554.97 864.99)" fill="#111"/>
<line x1="576.96" y1="797.98" x2="576.96" y2="797.10" stroke="#111" stroke-width="1.5"/>
<line x1="575.06" y1="797.80" x2="578.86" y2="797.80" stroke="#111" stroke-width="1.5"/>
<rect transform="translate(572.91 0)" x="0.5" y="798.48" width="7.10" height="109.62" fill="url(#p1)" stroke="#111" stroke-width="1"/>
<line x1="588.76" y1="830.73" x2="588.76" y2="812.71" stroke="#111" stroke-width="1.5"/>
<line x1="586.86" y1="813.41" x2="590.66" y2="813.41" stroke="#111" stroke-width="1.5"/>
<rect transform="translate(584.71 0)" x="0.5" y="831.23" width="7.10" height="76.87" fill="url(#p2)" stroke="#111" stroke-width="1"/>
<ellipse cx="588.76" cy="805.03" rx="1.76" ry="0.96" transform="rotate(-90.0 588.76 805.03)" fill="#111"/><ellipse cx="591.12" cy="806.74" rx="1.76" ry="0.96" transform="rotate(-18.0 591.12 806.74)" fill="#111"/><ellipse cx="590.22" cy="809.51" rx="1.76" ry="0.96" transform="rotate(54.0 590.22 809.51)" fill="#111"/><ellipse cx="587.30" cy="809.51" rx="1.76" ry="0.96" transform="rotate(126.0 587.30 809.51)" fill="#111"/><ellipse cx="586.40" cy="806.74" rx="1.76" ry="0.96" transform="rotate(198.0 586.40 806.74)" fill="#111"/>
<line x1="600.56" y1="864.25" x2="600.56" y2="853.59" stroke="#111" stroke-width="1.5"/>
<line x1="598.66" y1="854.29" x2="602.46" y2="854.29" stroke="#111" stroke-width="1.5"/>
<rect transform="translate(596.51 0)" x="0.5" y="864.75" width="7.10" height="43.35" fill="url(#p3)" stroke="#111" stroke-width="1"/>
<ellipse cx="600.56" cy="845.91" rx="1.76" ry="0.96" transform="rotate(-90.0 600.56 845.91)" fill="#111"/><ellipse cx="602.92" cy="847.62" rx="1.76" ry="0.96" transform="rotate(-18.0 602.92 847.62)" fill="#111"/><ellipse cx="602.02" cy="850.40" rx="1.76" ry="0.96" transform="rotate(54.0 602.02 850.40)" fill="#111"/><ellipse cx="599.10" cy="850.40" rx="1.76" ry="0.96" transform="rotate(126.0 599.10 850.40)" fill="#111"/><ellipse cx="598.20" cy="847.62" rx="1.76" ry="0.96" transform="rotate(198.0 598.20 847.62)" fill="#111"/>
<line x1="612.36" y1="887.88" x2="612.36" y2="881.17" stroke="#8c8c8c" stroke-width="1.5"/>
<line x1="610.46" y1="881.87" x2="614.26" y2="881.87" stroke="#8c8c8c" stroke-width="1.5"/>
<rect transform="translate(608.31 0)" x="0.5" y="888.38" width="7.10" height="19.72" fill="url(#p4)" stroke="#8c8c8c" stroke-width="1"/>
<ellipse cx="612.36" cy="873.49" rx="1.76" ry="0.96" transform="rotate(-90.0 612.36 873.49)" fill="#111"/><ellipse cx="614.72" cy="875.21" rx="1.76" ry="0.96" transform="rotate(-18.0 614.72 875.21)" fill="#111"/><ellipse cx="613.82" cy="877.98" rx="1.76" ry="0.96" transform="rotate(54.0 613.82 877.98)" fill="#111"/><ellipse cx="610.90" cy="877.98" rx="1.76" ry="0.96" transform="rotate(126.0 610.90 877.98)" fill="#111"/><ellipse cx="610.00" cy="875.21" rx="1.76" ry="0.96" transform="rotate(198.0 610.00 875.21)" fill="#111"/>
<line x1="624.16" y1="888.32" x2="624.16" y2="879.09" stroke="#8c8c8c" stroke-width="1.5"/>
<line x1="622.26" y1="879.79" x2="626.06" y2="879.79" stroke="#8c8c8c" stroke-width="1.5"/>
<rect transform="translate(620.11 0)" x="0.5" y="888.82" width="7.10" height="19.28" fill="url(#p5)" stroke="#8c8c8c" stroke-width="1"/>
<ellipse cx="624.16" cy="871.41" rx="1.76" ry="0.96" transform="rotate(-90.0 624.16 871.41)" fill="#111"/><ellipse cx="626.52" cy="873.12" rx="1.76" ry="0.96" transform="rotate(-18.0 626.52 873.12)" fill="#111"/><ellipse cx="625.62" cy="875.89" rx="1.76" ry="0.96" transform="rotate(54.0 625.62 875.89)" fill="#111"/><ellipse cx="622.70" cy="875.89" rx="1.76" ry="0.96" transform="rotate(126.0 622.70 875.89)" fill="#111"/><ellipse cx="621.80" cy="873.12" rx="1.76" ry="0.96" transform="rotate(198.0 621.80 873.12)" fill="#111"/>
<line x1="101.20" y1="775.02" x2="101.20" y2="908.10" stroke="#000" stroke-width="2.7"/>
<line x1="93.90" y1="908.10" x2="633.70" y2="908.10" stroke="#000" stroke-width="2.7"/>
<line x1="93.70" y1="908.10" x2="101.20" y2="908.10" stroke="#000" stroke-width="2.7"/>
<text transform="translate(91.20 916.10) scale(1 1.07)" text-anchor="end" class="tk">0</text>
<line x1="93.70" y1="864.14" x2="101.20" y2="864.14" stroke="#000" stroke-width="2.7"/>
<text transform="translate(91.20 872.14) scale(1 1.07)" text-anchor="end" class="tk">40</text>
<line x1="93.70" y1="820.18" x2="101.20" y2="820.18" stroke="#000" stroke-width="2.7"/>
<text transform="translate(91.20 828.18) scale(1 1.07)" text-anchor="end" class="tk">80</text>
<line x1="93.70" y1="776.22" x2="101.20" y2="776.22" stroke="#000" stroke-width="2.7"/>
<text transform="translate(91.20 784.22) scale(1 1.07)" text-anchor="end" class="tk">120</text>
<line x1="132.75" y1="908.10" x2="132.75" y2="915.60" stroke="#000" stroke-width="2.7"/>
<text x="132.75" y="936.60" text-anchor="middle" class="tk">1</text>
<line x1="199.58" y1="908.10" x2="199.58" y2="915.60" stroke="#000" stroke-width="2.7"/>
<text x="199.58" y="936.60" text-anchor="middle" class="tk">2</text>
<line x1="266.41" y1="908.10" x2="266.41" y2="915.60" stroke="#000" stroke-width="2.7"/>
<text x="266.41" y="936.60" text-anchor="middle" class="tk">3</text>
<line x1="333.24" y1="908.10" x2="333.24" y2="915.60" stroke="#000" stroke-width="2.7"/>
<text x="333.24" y="936.60" text-anchor="middle" class="tk">4</text>
<line x1="400.07" y1="908.10" x2="400.07" y2="915.60" stroke="#000" stroke-width="2.7"/>
<text x="400.07" y="936.60" text-anchor="middle" class="tk">5</text>
<line x1="466.90" y1="908.10" x2="466.90" y2="915.60" stroke="#000" stroke-width="2.7"/>
<text x="466.90" y="936.60" text-anchor="middle" class="tk">6</text>
<line x1="533.73" y1="908.10" x2="533.73" y2="915.60" stroke="#000" stroke-width="2.7"/>
<text x="533.73" y="936.60" text-anchor="middle" class="tk">7</text>
<line x1="600.56" y1="908.10" x2="600.56" y2="915.60" stroke="#000" stroke-width="2.7"/>
<text x="600.56" y="936.60" text-anchor="middle" class="tk">8</text>
<text transform="translate(366.80 694.90) scale(1 1.07)" text-anchor="middle" class="ti">SK-Hep-1</text>
<text transform="translate(-0.30 719.80) scale(1.18 1)" class="lt">C</text>
<text x="367.40" y="976.60" text-anchor="middle" class="ax">Compounds</text>
<text transform="translate(56.20 836.80) rotate(-90)" text-anchor="middle" class="yl">Cell survival rate (%)</text>
<rect transform="translate(597.80 683.90)" x="0.5" y="0.5" width="16.6" height="12.10" fill="url(#p1)" stroke="#111" stroke-width="1"/>
<text transform="translate(624.80 696.50) scale(1.06 1)" class="lg">Control</text>
<rect transform="translate(597.80 701.95)" x="0.5" y="0.5" width="16.6" height="12.50" fill="url(#p2)" stroke="#111" stroke-width="1"/>
<text transform="translate(624.80 714.95) scale(1.06 1)" class="lg">0.02μM</text>
<rect transform="translate(597.80 720.00)" x="0.5" y="0.5" width="16.6" height="12.90" fill="url(#p3)" stroke="#111" stroke-width="1"/>
<text transform="translate(624.80 733.40) scale(1.06 1)" class="lg">0.2μM</text>
<rect transform="translate(597.80 738.05)" x="0.5" y="0.5" width="16.6" height="13.30" fill="url(#p4)" stroke="#8c8c8c" stroke-width="1"/>
<text transform="translate(624.80 751.85) scale(1.06 1)" class="lg">2μM</text>
<rect transform="translate(597.80 756.10)" x="0.5" y="0.5" width="16.6" height="13.70" fill="url(#p5)" stroke="#8c8c8c" stroke-width="1"/>
<text transform="translate(624.80 770.30) scale(1.06 1)" class="lg">20μM</text>
<line x1="114.90" y1="1134.09" x2="114.90" y2="1131.37" stroke="#111" stroke-width="1.5"/>
<line x1="113.00" y1="1132.07" x2="116.80" y2="1132.07" stroke="#111" stroke-width="1.5"/>
<rect transform="translate(110.85 0)" x="0.5" y="1134.59" width="7.10" height="108.61" fill="url(#p1)" stroke="#111" stroke-width="1"/>
<line x1="126.70" y1="1132.46" x2="126.70" y2="1128.97" stroke="#111" stroke-width="1.5"/>
<line x1="124.80" y1="1129.67" x2="128.60" y2="1129.67" stroke="#111" stroke-width="1.5"/>
<rect transform="translate(122.65 0)" x="0.5" y="1132.96" width="7.10" height="110.24" fill="url(#p2)" stroke="#111" stroke-width="1"/>
<line x1="138.50" y1="1135.07" x2="138.50" y2="1133.55" stroke="#111" stroke-width="1.5"/>
<line x1="136.60" y1="1134.25" x2="140.40" y2="1134.25" stroke="#111" stroke-width="1.5"/>
<rect transform="translate(134.45 0)" x="0.5" y="1135.57" width="7.10" height="107.63" fill="url(#p3)" stroke="#111" stroke-width="1"/>
<line x1="150.30" y1="1133.87" x2="150.30" y2="1129.95" stroke="#8c8c8c" stroke-width="1.5"/>
<line x1="148.40" y1="1130.65" x2="152.20" y2="1130.65" stroke="#8c8c8c" stroke-width="1.5"/>
<rect transform="translate(146.25 0)" x="0.5" y="1134.37" width="7.10" height="108.83" fill="url(#p4)" stroke="#8c8c8c" stroke-width="1"/>
<line x1="162.10" y1="1137.25" x2="162.10" y2="1130.38" stroke="#8c8c8c" stroke-width="1.5"/>
<line x1="160.20" y1="1131.09" x2="164.00" y2="1131.09" stroke="#8c8c8c" stroke-width="1.5"/>
<rect transform="translate(158.05 0)" x="0.5" y="1137.75" width="7.10" height="105.45" fill="url(#p5)" stroke="#8c8c8c" stroke-width="1"/>
<line x1="181.39" y1="1134.85" x2="181.39" y2="1133.76" stroke="#111" stroke-width="1.5"/>
<line x1="179.49" y1="1134.46" x2="183.29" y2="1134.46" stroke="#111" stroke-width="1.5"/>
<rect transform="translate(177.34 0)" x="0.5" y="1135.35" width="7.10" height="107.85" fill="url(#p1)" stroke="#111" stroke-width="1"/>
<line x1="193.19" y1="1139.21" x2="193.19" y2="1138.12" stroke="#111" stroke-width="1.5"/>
<line x1="191.29" y1="1138.82" x2="195.09" y2="1138.82" stroke="#111" stroke-width="1.5"/>
<rect transform="translate(189.14 0)" x="0.5" y="1139.71" width="7.10" height="103.49" fill="url(#p2)" stroke="#111" stroke-width="1"/>
<line x1="204.99" y1="1137.58" x2="204.99" y2="1130.38" stroke="#111" stroke-width="1.5"/>
<line x1="203.09" y1="1131.09" x2="206.89" y2="1131.09" stroke="#111" stroke-width="1.5"/>
<rect transform="translate(200.94 0)" x="0.5" y="1138.08" width="7.10" height="105.12" fill="url(#p3)" stroke="#111" stroke-width="1"/>
<line x1="216.79" y1="1132.89" x2="216.79" y2="1128.75" stroke="#8c8c8c" stroke-width="1.5"/>
<line x1="214.89" y1="1129.45" x2="218.69" y2="1129.45" stroke="#8c8c8c" stroke-width="1.5"/>
<rect transform="translate(212.74 0)" x="0.5" y="1133.39" width="7.10" height="109.81" fill="url(#p4)" stroke="#8c8c8c" stroke-width="1"/>
<line x1="228.59" y1="1132.89" x2="228.59" y2="1128.75" stroke="#8c8c8c" stroke-width="1.5"/>
<line x1="226.69" y1="1129.45" x2="230.49" y2="1129.45" stroke="#8c8c8c" stroke-width="1.5"/>
<rect transform="translate(224.54 0)" x="0.5" y="1133.39" width="7.10" height="109.81" fill="url(#p5)" stroke="#8c8c8c" stroke-width="1"/>
<line x1="247.88" y1="1134.85" x2="247.88" y2="1132.89" stroke="#111" stroke-width="1.5"/>
<line x1="245.98" y1="1133.59" x2="249.78" y2="1133.59" stroke="#111" stroke-width="1.5"/>
<rect transform="translate(243.83 0)" x="0.5" y="1135.35" width="7.10" height="107.85" fill="url(#p1)" stroke="#111" stroke-width="1"/>
<line x1="259.68" y1="1151.53" x2="259.68" y2="1147.83" stroke="#111" stroke-width="1.5"/>
<line x1="257.78" y1="1148.53" x2="261.58" y2="1148.53" stroke="#111" stroke-width="1.5"/>
<rect transform="translate(255.63 0)" x="0.5" y="1152.03" width="7.10" height="91.17" fill="url(#p2)" stroke="#111" stroke-width="1"/>
<line x1="271.48" y1="1194.69" x2="271.48" y2="1188.59" stroke="#111" stroke-width="1.5"/>
<line x1="269.58" y1="1189.29" x2="273.38" y2="1189.29" stroke="#111" stroke-width="1.5"/>
<rect transform="translate(267.43 0)" x="0.5" y="1195.19" width="7.10" height="48.01" fill="url(#p3)" stroke="#111" stroke-width="1"/>
<ellipse cx="271.48" cy="1180.91" rx="1.76" ry="0.96" transform="rotate(-90.0 271.48 1180.91)" fill="#111"/><ellipse cx="273.84" cy="1182.62" rx="1.76" ry="0.96" transform="rotate(-18.0 273.84 1182.62)" fill="#111"/><ellipse cx="272.94" cy="1185.40" rx="1.76" ry="0.96" transform="rotate(54.0 272.94 1185.40)" fill="#111"/><ellipse cx="270.02" cy="1185.40" rx="1.76" ry="0.96" transform="rotate(126.0 270.02 1185.40)" fill="#111"/><ellipse cx="269.12" cy="1182.62" rx="1.76" ry="0.96" transform="rotate(198.0 269.12 1182.62)" fill="#111"/>
<line x1="283.28" y1="1206.79" x2="283.28" y2="1199.16" stroke="#8c8c8c" stroke-width="1.5"/>
<line x1="281.38" y1="1199.86" x2="285.18" y2="1199.86" stroke="#8c8c8c" stroke-width="1.5"/>
<rect transform="translate(279.23 0)" x="0.5" y="1207.29" width="7.10" height="35.91" fill="url(#p4)" stroke="#8c8c8c" stroke-width="1"/>
<ellipse cx="283.28" cy="1191.48" rx="1.76" ry="0.96" transform="rotate(-90.0 283.28 1191.48)" fill="#111"/><ellipse cx="285.64" cy="1193.20" rx="1.76" ry="0.96" transform="rotate(-18.0 285.64 1193.20)" fill="#111"/><ellipse cx="284.74" cy="1195.97" rx="1.76" ry="0.96" transform="rotate(54.0 284.74 1195.97)" fill="#111"/><ellipse cx="281.82" cy="1195.97" rx="1.76" ry="0.96" transform="rotate(126.0 281.82 1195.97)" fill="#111"/><ellipse cx="280.92" cy="1193.20" rx="1.76" ry="0.96" transform="rotate(198.0 280.92 1193.20)" fill="#111"/>
<line x1="295.08" y1="1207.99" x2="295.08" y2="1199.82" stroke="#8c8c8c" stroke-width="1.5"/>
<line x1="293.18" y1="1200.52" x2="296.98" y2="1200.52" stroke="#8c8c8c" stroke-width="1.5"/>
<rect transform="translate(291.03 0)" x="0.5" y="1208.49" width="7.10" height="34.71" fill="url(#p5)" stroke="#8c8c8c" stroke-width="1"/>
<ellipse cx="295.08" cy="1192.14" rx="1.76" ry="0.96" transform="rotate(-90.0 295.08 1192.14)" fill="#111"/><ellipse cx="297.44" cy="1193.85" rx="1.76" ry="0.96" transform="rotate(-18.0 297.44 1193.85)" fill="#111"/><ellipse cx="296.54" cy="1196.62" rx="1.76" ry="0.96" transform="rotate(54.0 296.54 1196.62)" fill="#111"/><ellipse cx="293.62" cy="1196.62" rx="1.76" ry="0.96" transform="rotate(126.0 293.62 1196.62)" fill="#111"/><ellipse cx="292.72" cy="1193.85" rx="1.76" ry="0.96" transform="rotate(198.0 292.72 1193.85)" fill="#111"/>
<line x1="314.37" y1="1134.85" x2="314.37" y2="1132.89" stroke="#111" stroke-width="1.5"/>
<line x1="312.47" y1="1133.59" x2="316.27" y2="1133.59" stroke="#111" stroke-width="1.5"/>
<rect transform="translate(310.32 0)" x="0.5" y="1135.35" width="7.10" height="107.85" fill="url(#p1)" stroke="#111" stroke-width="1"/>
<line x1="326.17" y1="1136.16" x2="326.17" y2="1135.07" stroke="#111" stroke-width="1.5"/>
<line x1="324.27" y1="1135.77" x2="328.07" y2="1135.77" stroke="#111" stroke-width="1.5"/>
<rect transform="translate(322.12 0)" x="0.5" y="1136.66" width="7.10" height="106.54" fill="url(#p2)" stroke="#111" stroke-width="1"/>
<line x1="337.97" y1="1140.19" x2="337.97" y2="1134.09" stroke="#111" stroke-width="1.5"/>
<line x1="336.07" y1="1134.79" x2="339.87" y2="1134.79" stroke="#111" stroke-width="1.5"/>
<rect transform="translate(333.92 0)" x="0.5" y="1140.69" width="7.10" height="102.51" fill="url(#p3)" stroke="#111" stroke-width="1"/>
<line x1="349.77" y1="1137.25" x2="349.77" y2="1131.91" stroke="#8c8c8c" stroke-width="1.5"/>
<line x1="347.87" y1="1132.61" x2="351.67" y2="1132.61" stroke="#8c8c8c" stroke-width="1.5"/>
<rect transform="translate(345.72 0)" x="0.5" y="1137.75" width="7.10" height="105.45" fill="url(#p4)" stroke="#8c8c8c" stroke-width="1"/>
<line x1="361.57" y1="1193.06" x2="361.57" y2="1190.01" stroke="#8c8c8c" stroke-width="1.5"/>
<line x1="359.67" y1="1190.71" x2="363.47" y2="1190.71" stroke="#8c8c8c" stroke-width="1.5"/>
<rect transform="translate(357.52 0)" x="0.5" y="1193.56" width="7.10" height="49.64" fill="url(#p5)" stroke="#8c8c8c" stroke-width="1"/>
<ellipse cx="361.57" cy="1182.33" rx="1.76" ry="0.96" transform="rotate(-90.0 361.57 1182.33)" fill="#111"/><ellipse cx="363.93" cy="1184.04" rx="1.76" ry="0.96" transform="rotate(-18.0 363.93 1184.04)" fill="#111"/><ellipse cx="363.03" cy="1186.81" rx="1.76" ry="0.96" transform="rotate(54.0 363.03 1186.81)" fill="#111"/><ellipse cx="360.11" cy="1186.81" rx="1.76" ry="0.96" transform="rotate(126.0 360.11 1186.81)" fill="#111"/><ellipse cx="359.21" cy="1184.04" rx="1.76" ry="0.96" transform="rotate(198.0 359.21 1184.04)" fill="#111"/>
<line x1="380.86" y1="1134.85" x2="380.86" y2="1131.37" stroke="#111" stroke-width="1.5"/>
<line x1="378.96" y1="1132.07" x2="382.76" y2="1132.07" stroke="#111" stroke-width="1.5"/>
<rect transform="translate(376.81 0)" x="0.5" y="1135.35" width="7.10" height="107.85" fill="url(#p1)" stroke="#111" stroke-width="1"/>
<line x1="392.66" y1="1134.53" x2="392.66" y2="1128.97" stroke="#111" stroke-width="1.5"/>
<line x1="390.76" y1="1129.67" x2="394.56" y2="1129.67" stroke="#111" stroke-width="1.5"/>
<rect transform="translate(388.61 0)" x="0.5" y="1135.03" width="7.10" height="108.17" fill="url(#p2)" stroke="#111" stroke-width="1"/>
<line x1="404.46" y1="1137.25" x2="404.46" y2="1133.11" stroke="#111" stroke-width="1.5"/>
<line x1="402.56" y1="1133.81" x2="406.36" y2="1133.81" stroke="#111" stroke-width="1.5"/>
<rect transform="translate(400.41 0)" x="0.5" y="1137.75" width="7.10" height="105.45" fill="url(#p3)" stroke="#111" stroke-width="1"/>
<line x1="416.26" y1="1135.51" x2="416.26" y2="1134.42" stroke="#8c8c8c" stroke-width="1.5"/>
<line x1="414.36" y1="1135.12" x2="418.16" y2="1135.12" stroke="#8c8c8c" stroke-width="1.5"/>
<rect transform="translate(412.21 0)" x="0.5" y="1136.01" width="7.10" height="107.19" fill="url(#p4)" stroke="#8c8c8c" stroke-width="1"/>
<line x1="428.06" y1="1167.34" x2="428.06" y2="1164.28" stroke="#8c8c8c" stroke-width="1.5"/>
<line x1="426.16" y1="1164.98" x2="429.96" y2="1164.98" stroke="#8c8c8c" stroke-width="1.5"/>
<rect transform="translate(424.01 0)" x="0.5" y="1167.84" width="7.10" height="75.36" fill="url(#p5)" stroke="#8c8c8c" stroke-width="1"/>
<ellipse cx="428.06" cy="1156.60" rx="1.76" ry="0.96" transform="rotate(-90.0 428.06 1156.60)" fill="#111"/><ellipse cx="430.42" cy="1158.32" rx="1.76" ry="0.96" transform="rotate(-18.0 430.42 1158.32)" fill="#111"/><ellipse cx="429.52" cy="1161.09" rx="1.76" ry="0.96" transform="rotate(54.0 429.52 1161.09)" fill="#111"/><ellipse cx="426.60" cy="1161.09" rx="1.76" ry="0.96" transform="rotate(126.0 426.60 1161.09)" fill="#111"/><ellipse cx="425.70" cy="1158.32" rx="1.76" ry="0.96" transform="rotate(198.0 425.70 1158.32)" fill="#111"/>
<line x1="447.35" y1="1134.85" x2="447.35" y2="1133.33" stroke="#111" stroke-width="1.5"/>
<line x1="445.45" y1="1134.03" x2="449.25" y2="1134.03" stroke="#111" stroke-width="1.5"/>
<rect transform="translate(443.30 0)" x="0.5" y="1135.35" width="7.10" height="107.85" fill="url(#p1)" stroke="#111" stroke-width="1"/>
<line x1="459.15" y1="1141.29" x2="459.15" y2="1140.41" stroke="#111" stroke-width="1.5"/>
<line x1="457.25" y1="1141.11" x2="461.05" y2="1141.11" stroke="#111" stroke-width="1.5"/>
<rect transform="translate(455.10 0)" x="0.5" y="1141.79" width="7.10" height="101.41" fill="url(#p2)" stroke="#111" stroke-width="1"/>
<line x1="470.95" y1="1155.45" x2="470.95" y2="1149.46" stroke="#111" stroke-width="1.5"/>
<line x1="469.05" y1="1150.16" x2="472.85" y2="1150.16" stroke="#111" stroke-width="1.5"/>
<rect transform="translate(466.90 0)" x="0.5" y="1155.95" width="7.10" height="87.25" fill="url(#p3)" stroke="#111" stroke-width="1"/>
<ellipse cx="470.95" cy="1141.78" rx="1.76" ry="0.96" transform="rotate(-90.0 470.95 1141.78)" fill="#111"/><ellipse cx="473.31" cy="1143.49" rx="1.76" ry="0.96" transform="rotate(-18.0 473.31 1143.49)" fill="#111"/><ellipse cx="472.41" cy="1146.27" rx="1.76" ry="0.96" transform="rotate(54.0 472.41 1146.27)" fill="#111"/><ellipse cx="469.49" cy="1146.27" rx="1.76" ry="0.96" transform="rotate(126.0 469.49 1146.27)" fill="#111"/><ellipse cx="468.59" cy="1143.49" rx="1.76" ry="0.96" transform="rotate(198.0 468.59 1143.49)" fill="#111"/>
<line x1="482.75" y1="1199.16" x2="482.75" y2="1193.06" stroke="#8c8c8c" stroke-width="1.5"/>
<line x1="480.85" y1="1193.76" x2="484.65" y2="1193.76" stroke="#8c8c8c" stroke-width="1.5"/>
<rect transform="translate(478.70 0)" x="0.5" y="1199.66" width="7.10" height="43.54" fill="url(#p4)" stroke="#8c8c8c" stroke-width="1"/>
<ellipse cx="482.75" cy="1185.38" rx="1.76" ry="0.96" transform="rotate(-90.0 482.75 1185.38)" fill="#111"/><ellipse cx="485.11" cy="1187.09" rx="1.76" ry="0.96" transform="rotate(-18.0 485.11 1187.09)" fill="#111"/><ellipse cx="484.21" cy="1189.87" rx="1.76" ry="0.96" transform="rotate(54.0 484.21 1189.87)" fill="#111"/><ellipse cx="481.29" cy="1189.87" rx="1.76" ry="0.96" transform="rotate(126.0 481.29 1189.87)" fill="#111"/><ellipse cx="480.39" cy="1187.09" rx="1.76" ry="0.96" transform="rotate(198.0 480.39 1187.09)" fill="#111"/>
<line x1="494.55" y1="1216.28" x2="494.55" y2="1207.01" stroke="#8c8c8c" stroke-width="1.5"/>
<line x1="492.65" y1="1207.71" x2="496.45" y2="1207.71" stroke="#8c8c8c" stroke-width="1.5"/>
<rect transform="translate(490.50 0)" x="0.5" y="1216.78" width="7.10" height="26.42" fill="url(#p5)" stroke="#8c8c8c" stroke-width="1"/>
<ellipse cx="494.55" cy="1199.33" rx="1.76" ry="0.96" transform="rotate(-90.0 494.55 1199.33)" fill="#111"/><ellipse cx="496.91" cy="1201.05" rx="1.76" ry="0.96" transform="rotate(-18.0 496.91 1201.05)" fill="#111"/><ellipse cx="496.01" cy="1203.82" rx="1.76" ry="0.96" transform="rotate(54.0 496.01 1203.82)" fill="#111"/><ellipse cx="493.09" cy="1203.82" rx="1.76" ry="0.96" transform="rotate(126.0 493.09 1203.82)" fill="#111"/><ellipse cx="492.19" cy="1201.05" rx="1.76" ry="0.96" transform="rotate(198.0 492.19 1201.05)" fill="#111"/>
<line x1="513.84" y1="1134.85" x2="513.84" y2="1133.33" stroke="#111" stroke-width="1.5"/>
<line x1="511.94" y1="1134.03" x2="515.74" y2="1134.03" stroke="#111" stroke-width="1.5"/>
<rect transform="translate(509.79 0)" x="0.5" y="1135.35" width="7.10" height="107.85" fill="url(#p1)" stroke="#111" stroke-width="1"/>
<line x1="525.64" y1="1168.75" x2="525.64" y2="1141.72" stroke="#111" stroke-width="1.5"/>
<line x1="523.74" y1="1142.42" x2="527.54" y2="1142.42" stroke="#111" stroke-width="1.5"/>
<rect transform="translate(521.59 0)" x="0.5" y="1169.25" width="7.10" height="73.95" fill="url(#p2)" stroke="#111" stroke-width="1"/>
<ellipse cx="525.64" cy="1134.04" rx="1.76" ry="0.96" transform="rotate(-90.0 525.64 1134.04)" fill="#111"/><ellipse cx="528.00" cy="1135.75" rx="1.76" ry="0.96" transform="rotate(-18.0 528.00 1135.75)" fill="#111"/><ellipse cx="527.10" cy="1138.53" rx="1.76" ry="0.96" transform="rotate(54.0 527.10 1138.53)" fill="#111"/><ellipse cx="524.18" cy="1138.53" rx="1.76" ry="0.96" transform="rotate(126.0 524.18 1138.53)" fill="#111"/><ellipse cx="523.28" cy="1135.75" rx="1.76" ry="0.96" transform="rotate(198.0 523.28 1135.75)" fill="#111"/>
<line x1="537.44" y1="1190.01" x2="537.44" y2="1168.75" stroke="#111" stroke-width="1.5"/>
<line x1="535.54" y1="1169.45" x2="539.34" y2="1169.45" stroke="#111" stroke-width="1.5"/>
<rect transform="translate(533.39 0)" x="0.5" y="1190.51" width="7.10" height="52.69" fill="url(#p3)" stroke="#111" stroke-width="1"/>
<ellipse cx="537.44" cy="1161.07" rx="1.76" ry="0.96" transform="rotate(-90.0 537.44 1161.07)" fill="#111"/><ellipse cx="539.80" cy="1162.79" rx="1.76" ry="0.96" transform="rotate(-18.0 539.80 1162.79)" fill="#111"/><ellipse cx="538.90" cy="1165.56" rx="1.76" ry="0.96" transform="rotate(54.0 538.90 1165.56)" fill="#111"/><ellipse cx="535.98" cy="1165.56" rx="1.76" ry="0.96" transform="rotate(126.0 535.98 1165.56)" fill="#111"/><ellipse cx="535.08" cy="1162.79" rx="1.76" ry="0.96" transform="rotate(198.0 535.08 1162.79)" fill="#111"/>
<line x1="549.24" y1="1198.84" x2="549.24" y2="1192.62" stroke="#8c8c8c" stroke-width="1.5"/>
<line x1="547.34" y1="1193.32" x2="551.14" y2="1193.32" stroke="#8c8c8c" stroke-width="1.5"/>
<rect transform="translate(545.19 0)" x="0.5" y="1199.34" width="7.10" height="43.86" fill="url(#p4)" stroke="#8c8c8c" stroke-width="1"/>
<ellipse cx="549.24" cy="1184.94" rx="1.76" ry="0.96" transform="rotate(-90.0 549.24 1184.94)" fill="#111"/><ellipse cx="551.60" cy="1186.66" rx="1.76" ry="0.96" transform="rotate(-18.0 551.60 1186.66)" fill="#111"/><ellipse cx="550.70" cy="1189.43" rx="1.76" ry="0.96" transform="rotate(54.0 550.70 1189.43)" fill="#111"/><ellipse cx="547.78" cy="1189.43" rx="1.76" ry="0.96" transform="rotate(126.0 547.78 1189.43)" fill="#111"/><ellipse cx="546.88" cy="1186.66" rx="1.76" ry="0.96" transform="rotate(198.0 546.88 1186.66)" fill="#111"/>
<line x1="561.04" y1="1205.38" x2="561.04" y2="1197.75" stroke="#8c8c8c" stroke-width="1.5"/>
<line x1="559.14" y1="1198.45" x2="562.94" y2="1198.45" stroke="#8c8c8c" stroke-width="1.5"/>
<rect transform="translate(556.99 0)" x="0.5" y="1205.88" width="7.10" height="37.32" fill="url(#p5)" stroke="#8c8c8c" stroke-width="1"/>
<ellipse cx="561.04" cy="1190.07" rx="1.76" ry="0.96" transform="rotate(-90.0 561.04 1190.07)" fill="#111"/><ellipse cx="563.40" cy="1191.78" rx="1.76" ry="0.96" transform="rotate(-18.0 563.40 1191.78)" fill="#111"/><ellipse cx="562.50" cy="1194.55" rx="1.76" ry="0.96" transform="rotate(54.0 562.50 1194.55)" fill="#111"/><ellipse cx="559.58" cy="1194.55" rx="1.76" ry="0.96" transform="rotate(126.0 559.58 1194.55)" fill="#111"/><ellipse cx="558.68" cy="1191.78" rx="1.76" ry="0.96" transform="rotate(198.0 558.68 1191.78)" fill="#111"/>
<line x1="580.33" y1="1134.85" x2="580.33" y2="1131.37" stroke="#111" stroke-width="1.5"/>
<line x1="578.43" y1="1132.07" x2="582.23" y2="1132.07" stroke="#111" stroke-width="1.5"/>
<rect transform="translate(576.28 0)" x="0.5" y="1135.35" width="7.10" height="107.85" fill="url(#p1)" stroke="#111" stroke-width="1"/>
<line x1="592.13" y1="1157.09" x2="592.13" y2="1144.77" stroke="#111" stroke-width="1.5"/>
<line x1="590.23" y1="1145.47" x2="594.03" y2="1145.47" stroke="#111" stroke-width="1.5"/>
<rect transform="translate(588.08 0)" x="0.5" y="1157.59" width="7.10" height="85.61" fill="url(#p2)" stroke="#111" stroke-width="1"/>
<ellipse cx="592.13" cy="1137.09" rx="1.76" ry="0.96" transform="rotate(-90.0 592.13 1137.09)" fill="#111"/><ellipse cx="594.49" cy="1138.81" rx="1.76" ry="0.96" transform="rotate(-18.0 594.49 1138.81)" fill="#111"/><ellipse cx="593.59" cy="1141.58" rx="1.76" ry="0.96" transform="rotate(54.0 593.59 1141.58)" fill="#111"/><ellipse cx="590.67" cy="1141.58" rx="1.76" ry="0.96" transform="rotate(126.0 590.67 1141.58)" fill="#111"/><ellipse cx="589.77" cy="1138.81" rx="1.76" ry="0.96" transform="rotate(198.0 589.77 1138.81)" fill="#111"/>
<line x1="603.93" y1="1190.99" x2="603.93" y2="1179.33" stroke="#111" stroke-width="1.5"/>
<line x1="602.03" y1="1180.03" x2="605.83" y2="1180.03" stroke="#111" stroke-width="1.5"/>
<rect transform="translate(599.88 0)" x="0.5" y="1191.49" width="7.10" height="51.71" fill="url(#p3)" stroke="#111" stroke-width="1"/>
<ellipse cx="603.93" cy="1171.65" rx="1.76" ry="0.96" transform="rotate(-90.0 603.93 1171.65)" fill="#111"/><ellipse cx="606.29" cy="1173.36" rx="1.76" ry="0.96" transform="rotate(-18.0 606.29 1173.36)" fill="#111"/><ellipse cx="605.39" cy="1176.13" rx="1.76" ry="0.96" transform="rotate(54.0 605.39 1176.13)" fill="#111"/><ellipse cx="602.47" cy="1176.13" rx="1.76" ry="0.96" transform="rotate(126.0 602.47 1176.13)" fill="#111"/><ellipse cx="601.57" cy="1173.36" rx="1.76" ry="0.96" transform="rotate(198.0 601.57 1173.36)" fill="#111"/>
<line x1="615.73" y1="1206.47" x2="615.73" y2="1201.24" stroke="#8c8c8c" stroke-width="1.5"/>
<line x1="613.83" y1="1201.94" x2="617.63" y2="1201.94" stroke="#8c8c8c" stroke-width="1.5"/>
<rect transform="translate(611.68 0)" x="0.5" y="1206.97" width="7.10" height="36.23" fill="url(#p4)" stroke="#8c8c8c" stroke-width="1"/>
<ellipse cx="615.73" cy="1193.56" rx="1.76" ry="0.96" transform="rotate(-90.0 615.73 1193.56)" fill="#111"/><ellipse cx="618.09" cy="1195.27" rx="1.76" ry="0.96" transform="rotate(-18.0 618.09 1195.27)" fill="#111"/><ellipse cx="617.19" cy="1198.04" rx="1.76" ry="0.96" transform="rotate(54.0 617.19 1198.04)" fill="#111"/><ellipse cx="614.27" cy="1198.04" rx="1.76" ry="0.96" transform="rotate(126.0 614.27 1198.04)" fill="#111"/><ellipse cx="613.37" cy="1195.27" rx="1.76" ry="0.96" transform="rotate(198.0 613.37 1195.27)" fill="#111"/>
<line x1="627.53" y1="1211.59" x2="627.53" y2="1201.24" stroke="#8c8c8c" stroke-width="1.5"/>
<line x1="625.63" y1="1201.94" x2="629.43" y2="1201.94" stroke="#8c8c8c" stroke-width="1.5"/>
<rect transform="translate(623.48 0)" x="0.5" y="1212.09" width="7.10" height="31.11" fill="url(#p5)" stroke="#8c8c8c" stroke-width="1"/>
<ellipse cx="627.53" cy="1193.56" rx="1.76" ry="0.96" transform="rotate(-90.0 627.53 1193.56)" fill="#111"/><ellipse cx="629.89" cy="1195.27" rx="1.76" ry="0.96" transform="rotate(-18.0 629.89 1195.27)" fill="#111"/><ellipse cx="628.99" cy="1198.04" rx="1.76" ry="0.96" transform="rotate(54.0 628.99 1198.04)" fill="#111"/><ellipse cx="626.07" cy="1198.04" rx="1.76" ry="0.96" transform="rotate(126.0 626.07 1198.04)" fill="#111"/><ellipse cx="625.17" cy="1195.27" rx="1.76" ry="0.96" transform="rotate(198.0 625.17 1195.27)" fill="#111"/>
<line x1="107.40" y1="1111.20" x2="107.40" y2="1243.20" stroke="#000" stroke-width="2.7"/>
<line x1="100.20" y1="1243.20" x2="636.60" y2="1243.20" stroke="#000" stroke-width="2.7"/>
<line x1="99.90" y1="1243.20" x2="107.40" y2="1243.20" stroke="#000" stroke-width="2.7"/>
<text transform="translate(97.40 1251.20) scale(1 1.07)" text-anchor="end" class="tk">0</text>
<line x1="99.90" y1="1199.60" x2="107.40" y2="1199.60" stroke="#000" stroke-width="2.7"/>
<text transform="translate(97.40 1207.60) scale(1 1.07)" text-anchor="end" class="tk">40</text>
<line x1="99.90" y1="1156.00" x2="107.40" y2="1156.00" stroke="#000" stroke-width="2.7"/>
<text transform="translate(97.40 1164.00) scale(1 1.07)" text-anchor="end" class="tk">80</text>
<line x1="99.90" y1="1112.40" x2="107.40" y2="1112.40" stroke="#000" stroke-width="2.7"/>
<text transform="translate(97.40 1120.40) scale(1 1.07)" text-anchor="end" class="tk">120</text>
<line x1="138.50" y1="1243.20" x2="138.50" y2="1250.70" stroke="#000" stroke-width="2.7"/>
<text x="138.50" y="1272.70" text-anchor="middle" class="tk">1</text>
<line x1="204.99" y1="1243.20" x2="204.99" y2="1250.70" stroke="#000" stroke-width="2.7"/>
<text x="204.99" y="1272.70" text-anchor="middle" class="tk">2</text>
<line x1="271.48" y1="1243.20" x2="271.48" y2="1250.70" stroke="#000" stroke-width="2.7"/>
<text x="271.48" y="1272.70" text-anchor="middle" class="tk">3</text>
<line x1="337.97" y1="1243.20" x2="337.97" y2="1250.70" stroke="#000" stroke-width="2.7"/>
<text x="337.97" y="1272.70" text-anchor="middle" class="tk">4</text>
<line x1="404.46" y1="1243.20" x2="404.46" y2="1250.70" stroke="#000" stroke-width="2.7"/>
<text x="404.46" y="1272.70" text-anchor="middle" class="tk">5</text>
<line x1="470.95" y1="1243.20" x2="470.95" y2="1250.70" stroke="#000" stroke-width="2.7"/>
<text x="470.95" y="1272.70" text-anchor="middle" class="tk">6</text>
<line x1="537.44" y1="1243.20" x2="537.44" y2="1250.70" stroke="#000" stroke-width="2.7"/>
<text x="537.44" y="1272.70" text-anchor="middle" class="tk">7</text>
<line x1="603.93" y1="1243.20" x2="603.93" y2="1250.70" stroke="#000" stroke-width="2.7"/>
<text x="603.93" y="1272.70" text-anchor="middle" class="tk">8</text>
<text transform="translate(371.80 1030.80) scale(1 1.07)" text-anchor="middle" class="ti">SKOV3</text>
<text transform="translate(1.30 1057.80) scale(1.18 1)" class="lt">D</text>
<text x="371.50" y="1312.60" text-anchor="middle" class="ax">Compounds</text>
<text transform="translate(57.60 1173.20) rotate(-90)" text-anchor="middle" class="yl">Cell survival rate (%)</text>
<rect transform="translate(593.20 1013.20)" x="0.5" y="0.5" width="16.6" height="12.60" fill="url(#p1)" stroke="#111" stroke-width="1"/>
<text transform="translate(620.00 1026.20) scale(1.06 1)" class="lg">Control</text>
<rect transform="translate(593.20 1031.30)" x="0.5" y="0.5" width="16.6" height="13.00" fill="url(#p2)" stroke="#111" stroke-width="1"/>
<text transform="translate(620.00 1044.70) scale(1.06 1)" class="lg">0.02μM</text>
<rect transform="translate(593.20 1049.40)" x="0.5" y="0.5" width="16.6" height="13.40" fill="url(#p3)" stroke="#111" stroke-width="1"/>
<text transform="translate(620.00 1063.20) scale(1.06 1)" class="lg">0.2μM</text>
<rect transform="translate(593.20 1067.50)" x="0.5" y="0.5" width="16.6" height="13.80" fill="url(#p4)" stroke="#8c8c8c" stroke-width="1"/>
<text transform="translate(620.00 1081.70) scale(1.06 1)" class="lg">2μM</text>
<rect transform="translate(593.20 1085.60)" x="0.5" y="0.5" width="16.6" height="14.20" fill="url(#p5)" stroke="#8c8c8c" stroke-width="1"/>
<text transform="translate(620.00 1100.20) scale(1.06 1)" class="lg">20μM</text>
</svg>
</body></html>
